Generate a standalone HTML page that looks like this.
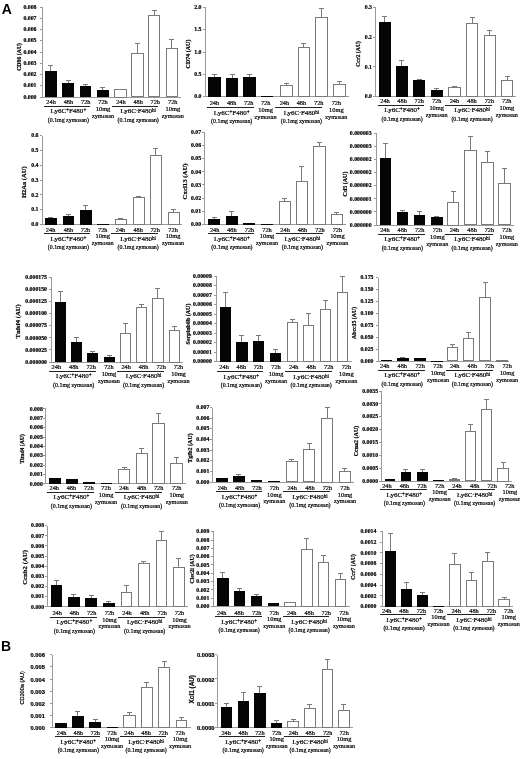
<!DOCTYPE html>
<html><head><meta charset="utf-8"><style>
html,body{margin:0;padding:0;background:#fff;width:520px;height:759px;overflow:hidden;}
body{filter:grayscale(1) blur(0.3px);}
.t{position:absolute;white-space:nowrap;}
.b{position:absolute;}
sup{font-size:0.72em;line-height:0;vertical-align:0.28em;}
.t{-webkit-text-stroke:0.2px #000;}
.L{position:absolute;font:bold 14px/14px 'Liberation Sans', sans-serif;color:#000;}
</style></head><body>
<div class="L" style="left:1.8px;top:1.5px;">A</div>
<div class="L" style="left:1px;top:638.7px;">B</div>
<div class="b" style="left:41.5px;top:7px;width:1px;height:90.5px;background:#9a9a9a;"></div>
<div class="b" style="left:41.5px;top:96.5px;width:139.5px;height:1px;background:#9a9a9a;"></div>
<div class="b" style="left:39.5px;top:96.5px;width:2.5px;height:1px;background:#9a9a9a;"></div>
<div class="t" style="left:-163.5px;top:94.7px;width:200px;text-align:right;font:bold 5.8px/5.8px 'Liberation Serif', serif;color:#000;">0.000</div>
<div class="b" style="left:39.5px;top:85.25px;width:2.5px;height:1px;background:#9a9a9a;"></div>
<div class="t" style="left:-163.5px;top:83.45px;width:200px;text-align:right;font:bold 5.8px/5.8px 'Liberation Serif', serif;color:#000;">0.001</div>
<div class="b" style="left:39.5px;top:74px;width:2.5px;height:1px;background:#9a9a9a;"></div>
<div class="t" style="left:-163.5px;top:72.2px;width:200px;text-align:right;font:bold 5.8px/5.8px 'Liberation Serif', serif;color:#000;">0.002</div>
<div class="b" style="left:39.5px;top:62.75px;width:2.5px;height:1px;background:#9a9a9a;"></div>
<div class="t" style="left:-163.5px;top:60.95px;width:200px;text-align:right;font:bold 5.8px/5.8px 'Liberation Serif', serif;color:#000;">0.003</div>
<div class="b" style="left:39.5px;top:51.5px;width:2.5px;height:1px;background:#9a9a9a;"></div>
<div class="t" style="left:-163.5px;top:49.7px;width:200px;text-align:right;font:bold 5.8px/5.8px 'Liberation Serif', serif;color:#000;">0.004</div>
<div class="b" style="left:39.5px;top:40.25px;width:2.5px;height:1px;background:#9a9a9a;"></div>
<div class="t" style="left:-163.5px;top:38.45px;width:200px;text-align:right;font:bold 5.8px/5.8px 'Liberation Serif', serif;color:#000;">0.005</div>
<div class="b" style="left:39.5px;top:29px;width:2.5px;height:1px;background:#9a9a9a;"></div>
<div class="t" style="left:-163.5px;top:27.2px;width:200px;text-align:right;font:bold 5.8px/5.8px 'Liberation Serif', serif;color:#000;">0.006</div>
<div class="b" style="left:39.5px;top:17.75px;width:2.5px;height:1px;background:#9a9a9a;"></div>
<div class="t" style="left:-163.5px;top:15.95px;width:200px;text-align:right;font:bold 5.8px/5.8px 'Liberation Serif', serif;color:#000;">0.007</div>
<div class="b" style="left:39.5px;top:6.5px;width:2.5px;height:1px;background:#9a9a9a;"></div>
<div class="t" style="left:-163.5px;top:4.7px;width:200px;text-align:right;font:bold 5.8px/5.8px 'Liberation Serif', serif;color:#000;">0.008</div>
<div class="t" style="left:-40.5px;top:54.4px;width:120px;text-align:center;font:bold 5.8px/5.8px 'Liberation Serif', serif;color:#000;transform:rotate(-90deg);">CD86 (AU)</div>
<div class="b" style="left:50.25px;top:65.5px;width:1px;height:5.25px;background:#7a7a7a;"></div>
<div class="b" style="left:48.25px;top:65px;width:5px;height:1px;background:#7a7a7a;"></div>
<div class="b" style="left:45px;top:70.75px;width:11.5px;height:26.25px;background:#050505;"></div>
<div class="b" style="left:67.5px;top:80px;width:1px;height:3px;background:#7a7a7a;"></div>
<div class="b" style="left:65.5px;top:79.5px;width:5px;height:1px;background:#7a7a7a;"></div>
<div class="b" style="left:62px;top:83px;width:12px;height:14px;background:#050505;"></div>
<div class="b" style="left:84.75px;top:84px;width:1px;height:2px;background:#7a7a7a;"></div>
<div class="b" style="left:82.75px;top:83.5px;width:5px;height:1px;background:#7a7a7a;"></div>
<div class="b" style="left:79.5px;top:86px;width:11.5px;height:11px;background:#050505;"></div>
<div class="b" style="left:102px;top:87.5px;width:1px;height:2.5px;background:#7a7a7a;"></div>
<div class="b" style="left:100px;top:87px;width:5px;height:1px;background:#7a7a7a;"></div>
<div class="b" style="left:96.5px;top:90px;width:12px;height:7px;background:#050505;"></div>
<div class="b" style="left:114px;top:88.5px;width:12.5px;height:9px;background:#fff;border:1px solid #7a7a7a;box-sizing:border-box;"></div>
<div class="b" style="left:137px;top:43.8px;width:1px;height:9.5px;background:#7a7a7a;"></div>
<div class="b" style="left:135px;top:43.3px;width:5px;height:1px;background:#7a7a7a;"></div>
<div class="b" style="left:131.3px;top:52.8px;width:12.4px;height:44.7px;background:#fff;border:1px solid #7a7a7a;box-sizing:border-box;"></div>
<div class="b" style="left:153.95px;top:10.4px;width:1px;height:4.9px;background:#7a7a7a;"></div>
<div class="b" style="left:151.95px;top:9.9px;width:5px;height:1px;background:#7a7a7a;"></div>
<div class="b" style="left:148.4px;top:14.8px;width:12.1px;height:82.7px;background:#fff;border:1px solid #7a7a7a;box-sizing:border-box;"></div>
<div class="b" style="left:171.45px;top:39.8px;width:1px;height:8.6px;background:#7a7a7a;"></div>
<div class="b" style="left:169.45px;top:39.3px;width:5px;height:1px;background:#7a7a7a;"></div>
<div class="b" style="left:166.2px;top:47.9px;width:11.5px;height:49.6px;background:#fff;border:1px solid #7a7a7a;box-sizing:border-box;"></div>
<div class="t" style="left:-48.95px;top:99.1px;width:200px;text-align:center;font:normal 6.3px/6.3px 'Liberation Serif', serif;color:#000;">24h</div>
<div class="t" style="left:-31.62px;top:99.1px;width:200px;text-align:center;font:normal 6.3px/6.3px 'Liberation Serif', serif;color:#000;">48h</div>
<div class="t" style="left:-14.29px;top:99.1px;width:200px;text-align:center;font:normal 6.3px/6.3px 'Liberation Serif', serif;color:#000;">72h</div>
<div class="t" style="left:20.87px;top:99.1px;width:200px;text-align:center;font:normal 6.3px/6.3px 'Liberation Serif', serif;color:#000;">24h</div>
<div class="t" style="left:38.19px;top:99.1px;width:200px;text-align:center;font:normal 6.3px/6.3px 'Liberation Serif', serif;color:#000;">48h</div>
<div class="t" style="left:55.22px;top:99.1px;width:200px;text-align:center;font:normal 6.3px/6.3px 'Liberation Serif', serif;color:#000;">72h</div>
<div class="t" style="left:3.03px;top:99.1px;width:200px;text-align:center;font:normal 6.3px/6.3px 'Liberation Serif', serif;color:#000;">72h</div>
<div class="t" style="left:3.03px;top:105.95px;width:200px;text-align:center;font:normal 6.4px/6.4px 'Liberation Serif', serif;color:#000;">10mg</div>
<div class="t" style="left:3.03px;top:112.5px;width:200px;text-align:center;font:normal 6.2px/6.2px 'Liberation Serif', serif;color:#000;">zymosan</div>
<div class="t" style="left:72.8px;top:99.1px;width:200px;text-align:center;font:normal 6.3px/6.3px 'Liberation Serif', serif;color:#000;">72h</div>
<div class="t" style="left:72.8px;top:105.95px;width:200px;text-align:center;font:normal 6.4px/6.4px 'Liberation Serif', serif;color:#000;">10mg</div>
<div class="t" style="left:72.8px;top:112.5px;width:200px;text-align:center;font:normal 6.2px/6.2px 'Liberation Serif', serif;color:#000;">zymosan</div>
<div class="b" style="left:44.27px;top:105.6px;width:46.21px;height:1.1px;background:#222;"></div>
<div class="t" style="left:-31.62px;top:108.2px;width:200px;text-align:center;font:normal 7px/7px 'Liberation Serif', serif;color:#000;letter-spacing:0px;">Ly6C<sup>+</sup>F480<sup>+</sup></div>
<div class="t" style="left:-31.62px;top:117.65px;width:200px;text-align:center;font:normal 5.9px/5.9px 'Liberation Serif', serif;color:#000;">(0.1mg zymosan)</div>
<div class="b" style="left:111.59px;top:105.6px;width:46.71px;height:1.1px;background:#222;"></div>
<div class="t" style="left:38.19px;top:108.2px;width:200px;text-align:center;font:normal 7px/7px 'Liberation Serif', serif;color:#000;letter-spacing:0px;">Ly6C<sup>-</sup>F480<sup>hi</sup></div>
<div class="t" style="left:38.19px;top:117.65px;width:200px;text-align:center;font:normal 5.9px/5.9px 'Liberation Serif', serif;color:#000;">(0.1mg zymosan)</div>
<div class="b" style="left:204.5px;top:7.3px;width:1px;height:89.9px;background:#9a9a9a;"></div>
<div class="b" style="left:204.5px;top:96.2px;width:144.5px;height:1px;background:#9a9a9a;"></div>
<div class="b" style="left:202.5px;top:96.2px;width:2.5px;height:1px;background:#9a9a9a;"></div>
<div class="t" style="left:1.5px;top:94.4px;width:200px;text-align:right;font:bold 5.8px/5.8px 'Liberation Serif', serif;color:#000;">0.0</div>
<div class="b" style="left:202.5px;top:73.85px;width:2.5px;height:1px;background:#9a9a9a;"></div>
<div class="t" style="left:1.5px;top:72.05px;width:200px;text-align:right;font:bold 5.8px/5.8px 'Liberation Serif', serif;color:#000;">0.5</div>
<div class="b" style="left:202.5px;top:51.5px;width:2.5px;height:1px;background:#9a9a9a;"></div>
<div class="t" style="left:1.5px;top:49.7px;width:200px;text-align:right;font:bold 5.8px/5.8px 'Liberation Serif', serif;color:#000;">1.0</div>
<div class="b" style="left:202.5px;top:29.15px;width:2.5px;height:1px;background:#9a9a9a;"></div>
<div class="t" style="left:1.5px;top:27.35px;width:200px;text-align:right;font:bold 5.8px/5.8px 'Liberation Serif', serif;color:#000;">1.5</div>
<div class="b" style="left:202.5px;top:6.8px;width:2.5px;height:1px;background:#9a9a9a;"></div>
<div class="t" style="left:1.5px;top:5px;width:200px;text-align:right;font:bold 5.8px/5.8px 'Liberation Serif', serif;color:#000;">2.0</div>
<div class="t" style="left:128px;top:51px;width:120px;text-align:center;font:bold 6px/6px 'Liberation Serif', serif;color:#000;transform:rotate(-90deg);">CD74 (AU)</div>
<div class="b" style="left:213.75px;top:74.5px;width:1px;height:2.25px;background:#7a7a7a;"></div>
<div class="b" style="left:211.75px;top:74px;width:5px;height:1px;background:#7a7a7a;"></div>
<div class="b" style="left:208px;top:76.75px;width:12.5px;height:19.95px;background:#050505;"></div>
<div class="b" style="left:231.5px;top:74.25px;width:1px;height:3.25px;background:#7a7a7a;"></div>
<div class="b" style="left:229.5px;top:73.75px;width:5px;height:1px;background:#7a7a7a;"></div>
<div class="b" style="left:225.75px;top:77.5px;width:12.5px;height:19.2px;background:#050505;"></div>
<div class="b" style="left:249px;top:74.5px;width:1px;height:2px;background:#7a7a7a;"></div>
<div class="b" style="left:247px;top:74px;width:5px;height:1px;background:#7a7a7a;"></div>
<div class="b" style="left:243.25px;top:76.5px;width:12.5px;height:20.2px;background:#050505;"></div>
<div class="b" style="left:260.75px;top:95.75px;width:12.25px;height:0.95px;background:#050505;"></div>
<div class="b" style="left:285.75px;top:83.5px;width:1px;height:2.25px;background:#7a7a7a;"></div>
<div class="b" style="left:283.75px;top:83px;width:5px;height:1px;background:#7a7a7a;"></div>
<div class="b" style="left:280px;top:85.25px;width:12.5px;height:11.95px;background:#fff;border:1px solid #7a7a7a;box-sizing:border-box;"></div>
<div class="b" style="left:303.25px;top:43px;width:1px;height:4.25px;background:#7a7a7a;"></div>
<div class="b" style="left:301.25px;top:42.5px;width:5px;height:1px;background:#7a7a7a;"></div>
<div class="b" style="left:297.5px;top:46.75px;width:12.5px;height:50.45px;background:#fff;border:1px solid #7a7a7a;box-sizing:border-box;"></div>
<div class="b" style="left:321.1px;top:8.6px;width:1px;height:8.8px;background:#7a7a7a;"></div>
<div class="b" style="left:319.1px;top:8.1px;width:5px;height:1px;background:#7a7a7a;"></div>
<div class="b" style="left:315.3px;top:16.9px;width:12.6px;height:80.3px;background:#fff;border:1px solid #7a7a7a;box-sizing:border-box;"></div>
<div class="b" style="left:339.15px;top:81.8px;width:1px;height:2.6px;background:#7a7a7a;"></div>
<div class="b" style="left:337.15px;top:81.3px;width:5px;height:1px;background:#7a7a7a;"></div>
<div class="b" style="left:333.4px;top:83.9px;width:12.5px;height:13.3px;background:#fff;border:1px solid #7a7a7a;box-sizing:border-box;"></div>
<div class="t" style="left:114.45px;top:100.4px;width:200px;text-align:center;font:normal 6.3px/6.3px 'Liberation Serif', serif;color:#000;">24h</div>
<div class="t" style="left:131.7px;top:100.4px;width:200px;text-align:center;font:normal 6.3px/6.3px 'Liberation Serif', serif;color:#000;">48h</div>
<div class="t" style="left:148.72px;top:100.4px;width:200px;text-align:center;font:normal 6.3px/6.3px 'Liberation Serif', serif;color:#000;">72h</div>
<div class="t" style="left:184.45px;top:100.4px;width:200px;text-align:center;font:normal 6.3px/6.3px 'Liberation Serif', serif;color:#000;">24h</div>
<div class="t" style="left:201.46px;top:100.4px;width:200px;text-align:center;font:normal 6.3px/6.3px 'Liberation Serif', serif;color:#000;">48h</div>
<div class="t" style="left:218.81px;top:100.4px;width:200px;text-align:center;font:normal 6.3px/6.3px 'Liberation Serif', serif;color:#000;">72h</div>
<div class="t" style="left:165.61px;top:100.4px;width:200px;text-align:center;font:normal 6.3px/6.3px 'Liberation Serif', serif;color:#000;">72h</div>
<div class="t" style="left:165.61px;top:107.25px;width:200px;text-align:center;font:normal 6.4px/6.4px 'Liberation Serif', serif;color:#000;">10mg</div>
<div class="t" style="left:165.61px;top:113.8px;width:200px;text-align:center;font:normal 6.2px/6.2px 'Liberation Serif', serif;color:#000;">zymosan</div>
<div class="t" style="left:236.36px;top:100.4px;width:200px;text-align:center;font:normal 6.3px/6.3px 'Liberation Serif', serif;color:#000;">72h</div>
<div class="t" style="left:236.36px;top:107.25px;width:200px;text-align:center;font:normal 6.4px/6.4px 'Liberation Serif', serif;color:#000;">10mg</div>
<div class="t" style="left:236.36px;top:113.8px;width:200px;text-align:center;font:normal 6.2px/6.2px 'Liberation Serif', serif;color:#000;">zymosan</div>
<div class="b" style="left:207.37px;top:106.9px;width:46.42px;height:1.1px;background:#222;"></div>
<div class="t" style="left:131.7px;top:109.5px;width:200px;text-align:center;font:normal 7px/7px 'Liberation Serif', serif;color:#000;letter-spacing:0px;">Ly6C<sup>+</sup>F480<sup>+</sup></div>
<div class="t" style="left:131.7px;top:118.95px;width:200px;text-align:center;font:normal 5.9px/5.9px 'Liberation Serif', serif;color:#000;">(0.1mg zymosan)</div>
<div class="b" style="left:275.37px;top:106.9px;width:46.57px;height:1.1px;background:#222;"></div>
<div class="t" style="left:201.46px;top:109.5px;width:200px;text-align:center;font:normal 7px/7px 'Liberation Serif', serif;color:#000;letter-spacing:0px;">Ly6C<sup>-</sup>F480<sup>hi</sup></div>
<div class="t" style="left:201.46px;top:118.95px;width:200px;text-align:center;font:normal 5.9px/5.9px 'Liberation Serif', serif;color:#000;">(0.1mg zymosan)</div>
<div class="b" style="left:375px;top:7.5px;width:1px;height:89.5px;background:#9a9a9a;"></div>
<div class="b" style="left:375px;top:96px;width:141px;height:1px;background:#9a9a9a;"></div>
<div class="b" style="left:373px;top:96px;width:2.5px;height:1px;background:#9a9a9a;"></div>
<div class="t" style="left:172px;top:94.2px;width:200px;text-align:right;font:bold 5.8px/5.8px 'Liberation Serif', serif;color:#000;">0.0</div>
<div class="b" style="left:373px;top:66.33px;width:2.5px;height:1px;background:#9a9a9a;"></div>
<div class="t" style="left:172px;top:64.53px;width:200px;text-align:right;font:bold 5.8px/5.8px 'Liberation Serif', serif;color:#000;">0.1</div>
<div class="b" style="left:373px;top:36.67px;width:2.5px;height:1px;background:#9a9a9a;"></div>
<div class="t" style="left:172px;top:34.87px;width:200px;text-align:right;font:bold 5.8px/5.8px 'Liberation Serif', serif;color:#000;">0.2</div>
<div class="b" style="left:373px;top:7px;width:2.5px;height:1px;background:#9a9a9a;"></div>
<div class="t" style="left:172px;top:5.2px;width:200px;text-align:right;font:bold 5.8px/5.8px 'Liberation Serif', serif;color:#000;">0.3</div>
<div class="t" style="left:298.9px;top:51.4px;width:120px;text-align:center;font:bold 5.8px/5.8px 'Liberation Serif', serif;color:#000;transform:rotate(-90deg);">Ccr2 (AU)</div>
<div class="b" style="left:384.25px;top:16.5px;width:1px;height:5.5px;background:#7a7a7a;"></div>
<div class="b" style="left:382.25px;top:16px;width:5px;height:1px;background:#7a7a7a;"></div>
<div class="b" style="left:378.75px;top:22px;width:12px;height:74.5px;background:#050505;"></div>
<div class="b" style="left:401.38px;top:60.75px;width:1px;height:5.25px;background:#7a7a7a;"></div>
<div class="b" style="left:399.38px;top:60.25px;width:5px;height:1px;background:#7a7a7a;"></div>
<div class="b" style="left:395.75px;top:66px;width:12.25px;height:30.5px;background:#050505;"></div>
<div class="b" style="left:418.62px;top:79px;width:1px;height:1px;background:#7a7a7a;"></div>
<div class="b" style="left:416.62px;top:78.5px;width:5px;height:1px;background:#7a7a7a;"></div>
<div class="b" style="left:413px;top:80px;width:12.25px;height:16.5px;background:#050505;"></div>
<div class="b" style="left:436.12px;top:88.5px;width:1px;height:1.5px;background:#7a7a7a;"></div>
<div class="b" style="left:434.12px;top:88px;width:5px;height:1px;background:#7a7a7a;"></div>
<div class="b" style="left:430.5px;top:90px;width:12.25px;height:6.5px;background:#050505;"></div>
<div class="b" style="left:453.88px;top:86.5px;width:1px;height:0.75px;background:#7a7a7a;"></div>
<div class="b" style="left:451.88px;top:86px;width:5px;height:1px;background:#7a7a7a;"></div>
<div class="b" style="left:448.25px;top:86.75px;width:12.25px;height:10.25px;background:#fff;border:1px solid #7a7a7a;box-sizing:border-box;"></div>
<div class="b" style="left:471.6px;top:17.4px;width:1px;height:6.2px;background:#7a7a7a;"></div>
<div class="b" style="left:469.6px;top:16.9px;width:5px;height:1px;background:#7a7a7a;"></div>
<div class="b" style="left:465.9px;top:23.1px;width:12.4px;height:73.9px;background:#fff;border:1px solid #7a7a7a;box-sizing:border-box;"></div>
<div class="b" style="left:489px;top:30px;width:1px;height:5px;background:#7a7a7a;"></div>
<div class="b" style="left:487px;top:29.5px;width:5px;height:1px;background:#7a7a7a;"></div>
<div class="b" style="left:483.5px;top:34.5px;width:12px;height:62.5px;background:#fff;border:1px solid #7a7a7a;box-sizing:border-box;"></div>
<div class="b" style="left:506.5px;top:76.2px;width:1px;height:3.8px;background:#7a7a7a;"></div>
<div class="b" style="left:504.5px;top:75.7px;width:5px;height:1px;background:#7a7a7a;"></div>
<div class="b" style="left:501px;top:79.5px;width:12px;height:17.5px;background:#fff;border:1px solid #7a7a7a;box-sizing:border-box;"></div>
<div class="t" style="left:285.05px;top:98.35px;width:200px;text-align:center;font:normal 6.3px/6.3px 'Liberation Serif', serif;color:#000;">24h</div>
<div class="t" style="left:302.1px;top:98.35px;width:200px;text-align:center;font:normal 6.3px/6.3px 'Liberation Serif', serif;color:#000;">48h</div>
<div class="t" style="left:319.28px;top:98.35px;width:200px;text-align:center;font:normal 6.3px/6.3px 'Liberation Serif', serif;color:#000;">72h</div>
<div class="t" style="left:354.39px;top:98.35px;width:200px;text-align:center;font:normal 6.3px/6.3px 'Liberation Serif', serif;color:#000;">24h</div>
<div class="t" style="left:372.04px;top:98.35px;width:200px;text-align:center;font:normal 6.3px/6.3px 'Liberation Serif', serif;color:#000;">48h</div>
<div class="t" style="left:389.37px;top:98.35px;width:200px;text-align:center;font:normal 6.3px/6.3px 'Liberation Serif', serif;color:#000;">72h</div>
<div class="t" style="left:336.71px;top:98.35px;width:200px;text-align:center;font:normal 6.3px/6.3px 'Liberation Serif', serif;color:#000;">72h</div>
<div class="t" style="left:336.71px;top:105.2px;width:200px;text-align:center;font:normal 6.4px/6.4px 'Liberation Serif', serif;color:#000;">10mg</div>
<div class="t" style="left:336.71px;top:111.75px;width:200px;text-align:center;font:normal 6.2px/6.2px 'Liberation Serif', serif;color:#000;">zymosan</div>
<div class="t" style="left:406.8px;top:98.35px;width:200px;text-align:center;font:normal 6.3px/6.3px 'Liberation Serif', serif;color:#000;">72h</div>
<div class="t" style="left:406.8px;top:105.2px;width:200px;text-align:center;font:normal 6.4px/6.4px 'Liberation Serif', serif;color:#000;">10mg</div>
<div class="t" style="left:406.8px;top:111.75px;width:200px;text-align:center;font:normal 6.2px/6.2px 'Liberation Serif', serif;color:#000;">zymosan</div>
<div class="b" style="left:378.07px;top:104.85px;width:46.31px;height:1.1px;background:#222;"></div>
<div class="t" style="left:302.1px;top:107.45px;width:200px;text-align:center;font:normal 7px/7px 'Liberation Serif', serif;color:#000;letter-spacing:0px;">Ly6C<sup>+</sup>F480<sup>+</sup></div>
<div class="t" style="left:302.1px;top:116.9px;width:200px;text-align:center;font:normal 5.9px/5.9px 'Liberation Serif', serif;color:#000;">(0.1mg zymosan)</div>
<div class="b" style="left:445.29px;top:104.85px;width:47.06px;height:1.1px;background:#222;"></div>
<div class="t" style="left:372.04px;top:107.45px;width:200px;text-align:center;font:normal 7px/7px 'Liberation Serif', serif;color:#000;letter-spacing:0px;">Ly6C<sup>-</sup>F480<sup>hi</sup></div>
<div class="t" style="left:372.04px;top:116.9px;width:200px;text-align:center;font:normal 5.9px/5.9px 'Liberation Serif', serif;color:#000;">(0.1mg zymosan)</div>
<div class="b" style="left:41.5px;top:135.5px;width:1px;height:89.5px;background:#9a9a9a;"></div>
<div class="b" style="left:41.5px;top:224px;width:140.5px;height:1px;background:#9a9a9a;"></div>
<div class="b" style="left:39.5px;top:224px;width:2.5px;height:1px;background:#9a9a9a;"></div>
<div class="t" style="left:-161.5px;top:222.2px;width:200px;text-align:right;font:bold 5.8px/5.8px 'Liberation Serif', serif;color:#000;">0.0</div>
<div class="b" style="left:39.5px;top:209.17px;width:2.5px;height:1px;background:#9a9a9a;"></div>
<div class="t" style="left:-161.5px;top:207.37px;width:200px;text-align:right;font:bold 5.8px/5.8px 'Liberation Serif', serif;color:#000;">0.1</div>
<div class="b" style="left:39.5px;top:194.33px;width:2.5px;height:1px;background:#9a9a9a;"></div>
<div class="t" style="left:-161.5px;top:192.53px;width:200px;text-align:right;font:bold 5.8px/5.8px 'Liberation Serif', serif;color:#000;">0.2</div>
<div class="b" style="left:39.5px;top:179.5px;width:2.5px;height:1px;background:#9a9a9a;"></div>
<div class="t" style="left:-161.5px;top:177.7px;width:200px;text-align:right;font:bold 5.8px/5.8px 'Liberation Serif', serif;color:#000;">0.3</div>
<div class="b" style="left:39.5px;top:164.67px;width:2.5px;height:1px;background:#9a9a9a;"></div>
<div class="t" style="left:-161.5px;top:162.87px;width:200px;text-align:right;font:bold 5.8px/5.8px 'Liberation Serif', serif;color:#000;">0.4</div>
<div class="b" style="left:39.5px;top:149.83px;width:2.5px;height:1px;background:#9a9a9a;"></div>
<div class="t" style="left:-161.5px;top:148.03px;width:200px;text-align:right;font:bold 5.8px/5.8px 'Liberation Serif', serif;color:#000;">0.5</div>
<div class="b" style="left:39.5px;top:135px;width:2.5px;height:1px;background:#9a9a9a;"></div>
<div class="t" style="left:-161.5px;top:133.2px;width:200px;text-align:right;font:bold 5.8px/5.8px 'Liberation Serif', serif;color:#000;">0.6</div>
<div class="t" style="left:-36px;top:179.25px;width:120px;text-align:center;font:bold 6.5px/6.5px 'Liberation Serif', serif;color:#000;transform:rotate(-90deg);">H2Aa (AU)</div>
<div class="b" style="left:50.25px;top:217px;width:1px;height:0.75px;background:#7a7a7a;"></div>
<div class="b" style="left:48.25px;top:216.5px;width:5px;height:1px;background:#7a7a7a;"></div>
<div class="b" style="left:45px;top:217.75px;width:11.5px;height:6.75px;background:#050505;"></div>
<div class="b" style="left:68.12px;top:214.5px;width:1px;height:1.25px;background:#7a7a7a;"></div>
<div class="b" style="left:66.12px;top:214px;width:5px;height:1px;background:#7a7a7a;"></div>
<div class="b" style="left:63px;top:215.75px;width:11.25px;height:8.75px;background:#050505;"></div>
<div class="b" style="left:85.25px;top:205.5px;width:1px;height:4px;background:#7a7a7a;"></div>
<div class="b" style="left:83.25px;top:205px;width:5px;height:1px;background:#7a7a7a;"></div>
<div class="b" style="left:80px;top:209.5px;width:11.5px;height:15px;background:#050505;"></div>
<div class="b" style="left:97px;top:223.5px;width:12px;height:1px;background:#050505;"></div>
<div class="b" style="left:120.38px;top:218.5px;width:1px;height:0.75px;background:#7a7a7a;"></div>
<div class="b" style="left:118.38px;top:218px;width:5px;height:1px;background:#7a7a7a;"></div>
<div class="b" style="left:114.75px;top:218.75px;width:12.25px;height:6.25px;background:#fff;border:1px solid #7a7a7a;box-sizing:border-box;"></div>
<div class="b" style="left:138px;top:196.5px;width:1px;height:0.75px;background:#7a7a7a;"></div>
<div class="b" style="left:136px;top:196px;width:5px;height:1px;background:#7a7a7a;"></div>
<div class="b" style="left:132.5px;top:196.75px;width:12px;height:28.25px;background:#fff;border:1px solid #7a7a7a;box-sizing:border-box;"></div>
<div class="b" style="left:155px;top:148px;width:1px;height:7px;background:#7a7a7a;"></div>
<div class="b" style="left:153px;top:147.5px;width:5px;height:1px;background:#7a7a7a;"></div>
<div class="b" style="left:149.5px;top:154.5px;width:12px;height:70.5px;background:#fff;border:1px solid #7a7a7a;box-sizing:border-box;"></div>
<div class="b" style="left:173px;top:209.5px;width:1px;height:2.5px;background:#7a7a7a;"></div>
<div class="b" style="left:171px;top:209px;width:5px;height:1px;background:#7a7a7a;"></div>
<div class="b" style="left:167.5px;top:211.5px;width:12px;height:13.5px;background:#fff;border:1px solid #7a7a7a;box-sizing:border-box;"></div>
<div class="t" style="left:-49.45px;top:226.5px;width:200px;text-align:center;font:normal 6.3px/6.3px 'Liberation Serif', serif;color:#000;">24h</div>
<div class="t" style="left:-31.6px;top:226.5px;width:200px;text-align:center;font:normal 6.3px/6.3px 'Liberation Serif', serif;color:#000;">48h</div>
<div class="t" style="left:-14.51px;top:226.5px;width:200px;text-align:center;font:normal 6.3px/6.3px 'Liberation Serif', serif;color:#000;">72h</div>
<div class="t" style="left:20.56px;top:226.5px;width:200px;text-align:center;font:normal 6.3px/6.3px 'Liberation Serif', serif;color:#000;">24h</div>
<div class="t" style="left:38.16px;top:226.5px;width:200px;text-align:center;font:normal 6.3px/6.3px 'Liberation Serif', serif;color:#000;">48h</div>
<div class="t" style="left:55.13px;top:226.5px;width:200px;text-align:center;font:normal 6.3px/6.3px 'Liberation Serif', serif;color:#000;">72h</div>
<div class="t" style="left:2.72px;top:226.5px;width:200px;text-align:center;font:normal 6.3px/6.3px 'Liberation Serif', serif;color:#000;">72h</div>
<div class="t" style="left:2.72px;top:233.35px;width:200px;text-align:center;font:normal 6.4px/6.4px 'Liberation Serif', serif;color:#000;">10mg</div>
<div class="t" style="left:2.72px;top:239.9px;width:200px;text-align:center;font:normal 6.2px/6.2px 'Liberation Serif', serif;color:#000;">zymosan</div>
<div class="t" style="left:73.1px;top:226.5px;width:200px;text-align:center;font:normal 6.3px/6.3px 'Liberation Serif', serif;color:#000;">72h</div>
<div class="t" style="left:73.1px;top:233.35px;width:200px;text-align:center;font:normal 6.4px/6.4px 'Liberation Serif', serif;color:#000;">10mg</div>
<div class="t" style="left:73.1px;top:239.9px;width:200px;text-align:center;font:normal 6.2px/6.2px 'Liberation Serif', serif;color:#000;">zymosan</div>
<div class="b" style="left:43.81px;top:233px;width:46.42px;height:1.1px;background:#222;"></div>
<div class="t" style="left:-31.6px;top:235.6px;width:200px;text-align:center;font:normal 7px/7px 'Liberation Serif', serif;color:#000;letter-spacing:0px;">Ly6C<sup>+</sup>F480<sup>+</sup></div>
<div class="t" style="left:-31.6px;top:245.05px;width:200px;text-align:center;font:normal 5.9px/5.9px 'Liberation Serif', serif;color:#000;">(0.1mg zymosan)</div>
<div class="b" style="left:111.45px;top:233px;width:46.67px;height:1.1px;background:#222;"></div>
<div class="t" style="left:38.16px;top:235.6px;width:200px;text-align:center;font:normal 7px/7px 'Liberation Serif', serif;color:#000;letter-spacing:0px;">Ly6C<sup>-</sup>F480<sup>hi</sup></div>
<div class="t" style="left:38.16px;top:245.05px;width:200px;text-align:center;font:normal 5.9px/5.9px 'Liberation Serif', serif;color:#000;">(0.1mg zymosan)</div>
<div class="b" style="left:204px;top:132.3px;width:1px;height:92.7px;background:#9a9a9a;"></div>
<div class="b" style="left:204px;top:224px;width:142px;height:1px;background:#9a9a9a;"></div>
<div class="b" style="left:202px;top:224px;width:2.5px;height:1px;background:#9a9a9a;"></div>
<div class="t" style="left:1.1px;top:222.2px;width:200px;text-align:right;font:bold 5.8px/5.8px 'Liberation Serif', serif;color:#000;">0.00</div>
<div class="b" style="left:202px;top:210.83px;width:2.5px;height:1px;background:#9a9a9a;"></div>
<div class="t" style="left:1.1px;top:209.03px;width:200px;text-align:right;font:bold 5.8px/5.8px 'Liberation Serif', serif;color:#000;">0.01</div>
<div class="b" style="left:202px;top:197.66px;width:2.5px;height:1px;background:#9a9a9a;"></div>
<div class="t" style="left:1.1px;top:195.86px;width:200px;text-align:right;font:bold 5.8px/5.8px 'Liberation Serif', serif;color:#000;">0.02</div>
<div class="b" style="left:202px;top:184.49px;width:2.5px;height:1px;background:#9a9a9a;"></div>
<div class="t" style="left:1.1px;top:182.69px;width:200px;text-align:right;font:bold 5.8px/5.8px 'Liberation Serif', serif;color:#000;">0.03</div>
<div class="b" style="left:202px;top:171.31px;width:2.5px;height:1px;background:#9a9a9a;"></div>
<div class="t" style="left:1.1px;top:169.51px;width:200px;text-align:right;font:bold 5.8px/5.8px 'Liberation Serif', serif;color:#000;">0.04</div>
<div class="b" style="left:202px;top:158.14px;width:2.5px;height:1px;background:#9a9a9a;"></div>
<div class="t" style="left:1.1px;top:156.34px;width:200px;text-align:right;font:bold 5.8px/5.8px 'Liberation Serif', serif;color:#000;">0.05</div>
<div class="b" style="left:202px;top:144.97px;width:2.5px;height:1px;background:#9a9a9a;"></div>
<div class="t" style="left:1.1px;top:143.17px;width:200px;text-align:right;font:bold 5.8px/5.8px 'Liberation Serif', serif;color:#000;">0.06</div>
<div class="b" style="left:202px;top:131.8px;width:2.5px;height:1px;background:#9a9a9a;"></div>
<div class="t" style="left:1.1px;top:130px;width:200px;text-align:right;font:bold 5.8px/5.8px 'Liberation Serif', serif;color:#000;">0.07</div>
<div class="t" style="left:124.7px;top:178.3px;width:120px;text-align:center;font:bold 6.8px/6.8px 'Liberation Serif', serif;color:#000;transform:rotate(-90deg);">Cxcl13 (AU)</div>
<div class="b" style="left:213.75px;top:217.25px;width:1px;height:1.5px;background:#7a7a7a;"></div>
<div class="b" style="left:211.75px;top:216.75px;width:5px;height:1px;background:#7a7a7a;"></div>
<div class="b" style="left:208.25px;top:218.75px;width:12px;height:5.75px;background:#050505;"></div>
<div class="b" style="left:231px;top:211.75px;width:1px;height:3.75px;background:#7a7a7a;"></div>
<div class="b" style="left:229px;top:211.25px;width:5px;height:1px;background:#7a7a7a;"></div>
<div class="b" style="left:225.5px;top:215.5px;width:12px;height:9px;background:#050505;"></div>
<div class="b" style="left:243px;top:222.75px;width:12px;height:1.75px;background:#050505;"></div>
<div class="b" style="left:260.5px;top:224px;width:12px;height:0.5px;background:#050505;"></div>
<div class="b" style="left:284px;top:198px;width:1px;height:3.25px;background:#7a7a7a;"></div>
<div class="b" style="left:282px;top:197.5px;width:5px;height:1px;background:#7a7a7a;"></div>
<div class="b" style="left:278.5px;top:200.75px;width:12px;height:24.25px;background:#fff;border:1px solid #7a7a7a;box-sizing:border-box;"></div>
<div class="b" style="left:301.25px;top:166px;width:1px;height:15.25px;background:#7a7a7a;"></div>
<div class="b" style="left:299.25px;top:165.5px;width:5px;height:1px;background:#7a7a7a;"></div>
<div class="b" style="left:295.75px;top:180.75px;width:12px;height:44.25px;background:#fff;border:1px solid #7a7a7a;box-sizing:border-box;"></div>
<div class="b" style="left:318.88px;top:142px;width:1px;height:4.75px;background:#7a7a7a;"></div>
<div class="b" style="left:316.88px;top:141.5px;width:5px;height:1px;background:#7a7a7a;"></div>
<div class="b" style="left:313.25px;top:146.25px;width:12.25px;height:78.75px;background:#fff;border:1px solid #7a7a7a;box-sizing:border-box;"></div>
<div class="b" style="left:336.25px;top:212px;width:1px;height:2.75px;background:#7a7a7a;"></div>
<div class="b" style="left:334.25px;top:211.5px;width:5px;height:1px;background:#7a7a7a;"></div>
<div class="b" style="left:330.75px;top:214.25px;width:12px;height:10.75px;background:#fff;border:1px solid #7a7a7a;box-sizing:border-box;"></div>
<div class="t" style="left:114.65px;top:226.6px;width:200px;text-align:center;font:normal 6.3px/6.3px 'Liberation Serif', serif;color:#000;">24h</div>
<div class="t" style="left:131.94px;top:226.6px;width:200px;text-align:center;font:normal 6.3px/6.3px 'Liberation Serif', serif;color:#000;">48h</div>
<div class="t" style="left:149.49px;top:226.6px;width:200px;text-align:center;font:normal 6.3px/6.3px 'Liberation Serif', serif;color:#000;">72h</div>
<div class="t" style="left:185.07px;top:226.6px;width:200px;text-align:center;font:normal 6.3px/6.3px 'Liberation Serif', serif;color:#000;">24h</div>
<div class="t" style="left:202.36px;top:226.6px;width:200px;text-align:center;font:normal 6.3px/6.3px 'Liberation Serif', serif;color:#000;">48h</div>
<div class="t" style="left:220.03px;top:226.6px;width:200px;text-align:center;font:normal 6.3px/6.3px 'Liberation Serif', serif;color:#000;">72h</div>
<div class="t" style="left:167.03px;top:226.6px;width:200px;text-align:center;font:normal 6.3px/6.3px 'Liberation Serif', serif;color:#000;">72h</div>
<div class="t" style="left:167.03px;top:233.45px;width:200px;text-align:center;font:normal 6.4px/6.4px 'Liberation Serif', serif;color:#000;">10mg</div>
<div class="t" style="left:167.03px;top:240px;width:200px;text-align:center;font:normal 6.2px/6.2px 'Liberation Serif', serif;color:#000;">zymosan</div>
<div class="t" style="left:237.45px;top:226.6px;width:200px;text-align:center;font:normal 6.3px/6.3px 'Liberation Serif', serif;color:#000;">72h</div>
<div class="t" style="left:237.45px;top:233.45px;width:200px;text-align:center;font:normal 6.4px/6.4px 'Liberation Serif', serif;color:#000;">10mg</div>
<div class="t" style="left:237.45px;top:240px;width:200px;text-align:center;font:normal 6.2px/6.2px 'Liberation Serif', serif;color:#000;">zymosan</div>
<div class="b" style="left:207.64px;top:233.1px;width:46.86px;height:1.1px;background:#222;"></div>
<div class="t" style="left:131.94px;top:235.7px;width:200px;text-align:center;font:normal 7px/7px 'Liberation Serif', serif;color:#000;letter-spacing:0px;">Ly6C<sup>+</sup>F480<sup>+</sup></div>
<div class="t" style="left:131.94px;top:245.15px;width:200px;text-align:center;font:normal 5.9px/5.9px 'Liberation Serif', serif;color:#000;">(0.1mg zymosan)</div>
<div class="b" style="left:276.06px;top:233.1px;width:47.12px;height:1.1px;background:#222;"></div>
<div class="t" style="left:202.36px;top:235.7px;width:200px;text-align:center;font:normal 7px/7px 'Liberation Serif', serif;color:#000;letter-spacing:0px;">Ly6C<sup>-</sup>F480<sup>hi</sup></div>
<div class="t" style="left:202.36px;top:245.15px;width:200px;text-align:center;font:normal 5.9px/5.9px 'Liberation Serif', serif;color:#000;">(0.1mg zymosan)</div>
<div class="b" style="left:375.8px;top:133.3px;width:1px;height:92.2px;background:#9a9a9a;"></div>
<div class="b" style="left:375.8px;top:224.5px;width:138.2px;height:1px;background:#9a9a9a;"></div>
<div class="b" style="left:373.8px;top:224.5px;width:2.5px;height:1px;background:#9a9a9a;"></div>
<div class="t" style="left:171.6px;top:222.7px;width:200px;text-align:right;font:bold 5.8px/5.8px 'Liberation Serif', serif;color:#000;">0.000000</div>
<div class="b" style="left:373.8px;top:211.4px;width:2.5px;height:1px;background:#9a9a9a;"></div>
<div class="t" style="left:171.6px;top:209.6px;width:200px;text-align:right;font:bold 5.8px/5.8px 'Liberation Serif', serif;color:#000;">0.000000</div>
<div class="b" style="left:373.8px;top:198.3px;width:2.5px;height:1px;background:#9a9a9a;"></div>
<div class="t" style="left:171.6px;top:196.5px;width:200px;text-align:right;font:bold 5.8px/5.8px 'Liberation Serif', serif;color:#000;">0.000001</div>
<div class="b" style="left:373.8px;top:185.2px;width:2.5px;height:1px;background:#9a9a9a;"></div>
<div class="t" style="left:171.6px;top:183.4px;width:200px;text-align:right;font:bold 5.8px/5.8px 'Liberation Serif', serif;color:#000;">0.000002</div>
<div class="b" style="left:373.8px;top:172.1px;width:2.5px;height:1px;background:#9a9a9a;"></div>
<div class="t" style="left:171.6px;top:170.3px;width:200px;text-align:right;font:bold 5.8px/5.8px 'Liberation Serif', serif;color:#000;">0.000002</div>
<div class="b" style="left:373.8px;top:159px;width:2.5px;height:1px;background:#9a9a9a;"></div>
<div class="t" style="left:171.6px;top:157.2px;width:200px;text-align:right;font:bold 5.8px/5.8px 'Liberation Serif', serif;color:#000;">0.000002</div>
<div class="b" style="left:373.8px;top:145.9px;width:2.5px;height:1px;background:#9a9a9a;"></div>
<div class="t" style="left:171.6px;top:144.1px;width:200px;text-align:right;font:bold 5.8px/5.8px 'Liberation Serif', serif;color:#000;">0.000003</div>
<div class="b" style="left:373.8px;top:132.8px;width:2.5px;height:1px;background:#9a9a9a;"></div>
<div class="t" style="left:171.6px;top:131px;width:200px;text-align:right;font:bold 5.8px/5.8px 'Liberation Serif', serif;color:#000;">0.000003</div>
<div class="t" style="left:284.5px;top:180.6px;width:120px;text-align:center;font:bold 6px/6px 'Liberation Serif', serif;color:#000;transform:rotate(-90deg);">Cd5 (AU)</div>
<div class="b" style="left:385.12px;top:143px;width:1px;height:15.25px;background:#7a7a7a;"></div>
<div class="b" style="left:383.12px;top:142.5px;width:5px;height:1px;background:#7a7a7a;"></div>
<div class="b" style="left:380px;top:158.25px;width:11.25px;height:66.75px;background:#050505;"></div>
<div class="b" style="left:402px;top:210px;width:1px;height:1.75px;background:#7a7a7a;"></div>
<div class="b" style="left:400px;top:209.5px;width:5px;height:1px;background:#7a7a7a;"></div>
<div class="b" style="left:396.75px;top:211.75px;width:11.5px;height:13.25px;background:#050505;"></div>
<div class="b" style="left:419px;top:211.25px;width:1px;height:4px;background:#7a7a7a;"></div>
<div class="b" style="left:417px;top:210.75px;width:5px;height:1px;background:#7a7a7a;"></div>
<div class="b" style="left:413.75px;top:215.25px;width:11.5px;height:9.75px;background:#050505;"></div>
<div class="b" style="left:436.25px;top:216.5px;width:1px;height:0.75px;background:#7a7a7a;"></div>
<div class="b" style="left:434.25px;top:216px;width:5px;height:1px;background:#7a7a7a;"></div>
<div class="b" style="left:431px;top:217.25px;width:11.5px;height:7.75px;background:#050505;"></div>
<div class="b" style="left:452.85px;top:191.3px;width:1px;height:11.2px;background:#7a7a7a;"></div>
<div class="b" style="left:450.85px;top:190.8px;width:5px;height:1px;background:#7a7a7a;"></div>
<div class="b" style="left:447.4px;top:202px;width:11.9px;height:23.5px;background:#fff;border:1px solid #7a7a7a;box-sizing:border-box;"></div>
<div class="b" style="left:470.05px;top:136.3px;width:1px;height:14.1px;background:#7a7a7a;"></div>
<div class="b" style="left:468.05px;top:135.8px;width:5px;height:1px;background:#7a7a7a;"></div>
<div class="b" style="left:464.4px;top:149.9px;width:12.3px;height:75.6px;background:#fff;border:1px solid #7a7a7a;box-sizing:border-box;"></div>
<div class="b" style="left:487px;top:151.3px;width:1px;height:10.8px;background:#7a7a7a;"></div>
<div class="b" style="left:485px;top:150.8px;width:5px;height:1px;background:#7a7a7a;"></div>
<div class="b" style="left:481.3px;top:161.6px;width:12.4px;height:63.9px;background:#fff;border:1px solid #7a7a7a;box-sizing:border-box;"></div>
<div class="b" style="left:503.95px;top:168.3px;width:1px;height:15px;background:#7a7a7a;"></div>
<div class="b" style="left:501.95px;top:167.8px;width:5px;height:1px;background:#7a7a7a;"></div>
<div class="b" style="left:498.3px;top:182.8px;width:12.3px;height:42.7px;background:#fff;border:1px solid #7a7a7a;box-sizing:border-box;"></div>
<div class="t" style="left:284.94px;top:227.3px;width:200px;text-align:center;font:normal 6.3px/6.3px 'Liberation Serif', serif;color:#000;">24h</div>
<div class="t" style="left:302.25px;top:227.3px;width:200px;text-align:center;font:normal 6.3px/6.3px 'Liberation Serif', serif;color:#000;">48h</div>
<div class="t" style="left:319.69px;top:227.3px;width:200px;text-align:center;font:normal 6.3px/6.3px 'Liberation Serif', serif;color:#000;">72h</div>
<div class="t" style="left:354.42px;top:227.3px;width:200px;text-align:center;font:normal 6.3px/6.3px 'Liberation Serif', serif;color:#000;">24h</div>
<div class="t" style="left:372.07px;top:227.3px;width:200px;text-align:center;font:normal 6.3px/6.3px 'Liberation Serif', serif;color:#000;">48h</div>
<div class="t" style="left:389.46px;top:227.3px;width:200px;text-align:center;font:normal 6.3px/6.3px 'Liberation Serif', serif;color:#000;">72h</div>
<div class="t" style="left:337.39px;top:227.3px;width:200px;text-align:center;font:normal 6.3px/6.3px 'Liberation Serif', serif;color:#000;">72h</div>
<div class="t" style="left:337.39px;top:234.15px;width:200px;text-align:center;font:normal 6.4px/6.4px 'Liberation Serif', serif;color:#000;">10mg</div>
<div class="t" style="left:337.39px;top:240.7px;width:200px;text-align:center;font:normal 6.2px/6.2px 'Liberation Serif', serif;color:#000;">zymosan</div>
<div class="t" style="left:406.85px;top:227.3px;width:200px;text-align:center;font:normal 6.3px/6.3px 'Liberation Serif', serif;color:#000;">72h</div>
<div class="t" style="left:406.85px;top:234.15px;width:200px;text-align:center;font:normal 6.4px/6.4px 'Liberation Serif', serif;color:#000;">10mg</div>
<div class="t" style="left:406.85px;top:240.7px;width:200px;text-align:center;font:normal 6.2px/6.2px 'Liberation Serif', serif;color:#000;">zymosan</div>
<div class="b" style="left:378.16px;top:233.8px;width:46.43px;height:1.1px;background:#222;"></div>
<div class="t" style="left:302.25px;top:236.4px;width:200px;text-align:center;font:normal 7px/7px 'Liberation Serif', serif;color:#000;letter-spacing:0px;">Ly6C<sup>+</sup>F480<sup>+</sup></div>
<div class="t" style="left:302.25px;top:245.85px;width:200px;text-align:center;font:normal 5.9px/5.9px 'Liberation Serif', serif;color:#000;">(0.1mg zymosan)</div>
<div class="b" style="left:445.32px;top:233.8px;width:47.5px;height:1.1px;background:#222;"></div>
<div class="t" style="left:372.07px;top:236.4px;width:200px;text-align:center;font:normal 7px/7px 'Liberation Serif', serif;color:#000;letter-spacing:0px;">Ly6C<sup>-</sup>F480<sup>hi</sup></div>
<div class="t" style="left:372.07px;top:245.85px;width:200px;text-align:center;font:normal 5.9px/5.9px 'Liberation Serif', serif;color:#000;">(0.1mg zymosan)</div>
<div class="b" style="left:50.5px;top:277.4px;width:1px;height:85.1px;background:#9a9a9a;"></div>
<div class="b" style="left:50.5px;top:361.5px;width:132.5px;height:1px;background:#9a9a9a;"></div>
<div class="b" style="left:48.5px;top:361.5px;width:2.5px;height:1px;background:#9a9a9a;"></div>
<div class="t" style="left:-153px;top:359.7px;width:200px;text-align:right;font:bold 5.8px/5.8px 'Liberation Serif', serif;color:#000;">0.000000</div>
<div class="b" style="left:48.5px;top:349.41px;width:2.5px;height:1px;background:#9a9a9a;"></div>
<div class="t" style="left:-153px;top:347.61px;width:200px;text-align:right;font:bold 5.8px/5.8px 'Liberation Serif', serif;color:#000;">0.000025</div>
<div class="b" style="left:48.5px;top:337.33px;width:2.5px;height:1px;background:#9a9a9a;"></div>
<div class="t" style="left:-153px;top:335.53px;width:200px;text-align:right;font:bold 5.8px/5.8px 'Liberation Serif', serif;color:#000;">0.000050</div>
<div class="b" style="left:48.5px;top:325.24px;width:2.5px;height:1px;background:#9a9a9a;"></div>
<div class="t" style="left:-153px;top:323.44px;width:200px;text-align:right;font:bold 5.8px/5.8px 'Liberation Serif', serif;color:#000;">0.000075</div>
<div class="b" style="left:48.5px;top:313.16px;width:2.5px;height:1px;background:#9a9a9a;"></div>
<div class="t" style="left:-153px;top:311.36px;width:200px;text-align:right;font:bold 5.8px/5.8px 'Liberation Serif', serif;color:#000;">0.000100</div>
<div class="b" style="left:48.5px;top:301.07px;width:2.5px;height:1px;background:#9a9a9a;"></div>
<div class="t" style="left:-153px;top:299.27px;width:200px;text-align:right;font:bold 5.8px/5.8px 'Liberation Serif', serif;color:#000;">0.000125</div>
<div class="b" style="left:48.5px;top:288.99px;width:2.5px;height:1px;background:#9a9a9a;"></div>
<div class="t" style="left:-153px;top:287.19px;width:200px;text-align:right;font:bold 5.8px/5.8px 'Liberation Serif', serif;color:#000;">0.000150</div>
<div class="b" style="left:48.5px;top:276.9px;width:2.5px;height:1px;background:#9a9a9a;"></div>
<div class="t" style="left:-153px;top:275.1px;width:200px;text-align:right;font:bold 5.8px/5.8px 'Liberation Serif', serif;color:#000;">0.000175</div>
<div class="t" style="left:-41.7px;top:317.95px;width:120px;text-align:center;font:bold 6.7px/6.7px 'Liberation Serif', serif;color:#000;transform:rotate(-90deg);">Tnfsf4 (AU)</div>
<div class="b" style="left:59.5px;top:291.5px;width:1px;height:10.5px;background:#7a7a7a;"></div>
<div class="b" style="left:57.5px;top:291px;width:5px;height:1px;background:#7a7a7a;"></div>
<div class="b" style="left:54.5px;top:302px;width:11px;height:60px;background:#050505;"></div>
<div class="b" style="left:75.75px;top:337.5px;width:1px;height:4px;background:#7a7a7a;"></div>
<div class="b" style="left:73.75px;top:337px;width:5px;height:1px;background:#7a7a7a;"></div>
<div class="b" style="left:70.75px;top:341.5px;width:11px;height:20.5px;background:#050505;"></div>
<div class="b" style="left:92px;top:351.5px;width:1px;height:1px;background:#7a7a7a;"></div>
<div class="b" style="left:90px;top:351px;width:5px;height:1px;background:#7a7a7a;"></div>
<div class="b" style="left:87px;top:352.5px;width:11px;height:9.5px;background:#050505;"></div>
<div class="b" style="left:108.62px;top:355px;width:1px;height:2px;background:#7a7a7a;"></div>
<div class="b" style="left:106.62px;top:354.5px;width:5px;height:1px;background:#7a7a7a;"></div>
<div class="b" style="left:103.75px;top:357px;width:10.75px;height:5px;background:#050505;"></div>
<div class="b" style="left:124.75px;top:323.25px;width:1px;height:10.25px;background:#7a7a7a;"></div>
<div class="b" style="left:122.75px;top:322.75px;width:5px;height:1px;background:#7a7a7a;"></div>
<div class="b" style="left:119.75px;top:333px;width:11px;height:29.5px;background:#fff;border:1px solid #7a7a7a;box-sizing:border-box;"></div>
<div class="b" style="left:141px;top:304.5px;width:1px;height:2.75px;background:#7a7a7a;"></div>
<div class="b" style="left:139px;top:304px;width:5px;height:1px;background:#7a7a7a;"></div>
<div class="b" style="left:136px;top:306.75px;width:11px;height:55.75px;background:#fff;border:1px solid #7a7a7a;box-sizing:border-box;"></div>
<div class="b" style="left:157.38px;top:288.5px;width:1px;height:9.75px;background:#7a7a7a;"></div>
<div class="b" style="left:155.38px;top:288px;width:5px;height:1px;background:#7a7a7a;"></div>
<div class="b" style="left:152.25px;top:297.75px;width:11.25px;height:64.75px;background:#fff;border:1px solid #7a7a7a;box-sizing:border-box;"></div>
<div class="b" style="left:173.62px;top:326.25px;width:1px;height:4.25px;background:#7a7a7a;"></div>
<div class="b" style="left:171.62px;top:325.75px;width:5px;height:1px;background:#7a7a7a;"></div>
<div class="b" style="left:168.5px;top:330px;width:11.25px;height:32.5px;background:#fff;border:1px solid #7a7a7a;box-sizing:border-box;"></div>
<div class="t" style="left:-43.68px;top:364.3px;width:200px;text-align:center;font:normal 6.3px/6.3px 'Liberation Serif', serif;color:#000;">24h</div>
<div class="t" style="left:-26.28px;top:364.3px;width:200px;text-align:center;font:normal 6.3px/6.3px 'Liberation Serif', serif;color:#000;">48h</div>
<div class="t" style="left:-8.88px;top:364.3px;width:200px;text-align:center;font:normal 6.3px/6.3px 'Liberation Serif', serif;color:#000;">72h</div>
<div class="t" style="left:26.19px;top:364.3px;width:200px;text-align:center;font:normal 6.3px/6.3px 'Liberation Serif', serif;color:#000;">24h</div>
<div class="t" style="left:43.59px;top:364.3px;width:200px;text-align:center;font:normal 6.3px/6.3px 'Liberation Serif', serif;color:#000;">48h</div>
<div class="t" style="left:61.12px;top:364.3px;width:200px;text-align:center;font:normal 6.3px/6.3px 'Liberation Serif', serif;color:#000;">72h</div>
<div class="t" style="left:8.92px;top:364.3px;width:200px;text-align:center;font:normal 6.3px/6.3px 'Liberation Serif', serif;color:#000;">72h</div>
<div class="t" style="left:8.92px;top:371.15px;width:200px;text-align:center;font:normal 6.4px/6.4px 'Liberation Serif', serif;color:#000;">10mg</div>
<div class="t" style="left:8.92px;top:377.7px;width:200px;text-align:center;font:normal 6.2px/6.2px 'Liberation Serif', serif;color:#000;">zymosan</div>
<div class="t" style="left:78.52px;top:364.3px;width:200px;text-align:center;font:normal 6.3px/6.3px 'Liberation Serif', serif;color:#000;">72h</div>
<div class="t" style="left:78.52px;top:371.15px;width:200px;text-align:center;font:normal 6.4px/6.4px 'Liberation Serif', serif;color:#000;">10mg</div>
<div class="t" style="left:78.52px;top:377.7px;width:200px;text-align:center;font:normal 6.2px/6.2px 'Liberation Serif', serif;color:#000;">zymosan</div>
<div class="b" style="left:49.43px;top:370.8px;width:46.58px;height:1.1px;background:#222;"></div>
<div class="t" style="left:-26.28px;top:373.4px;width:200px;text-align:center;font:normal 7px/7px 'Liberation Serif', serif;color:#000;letter-spacing:0px;">Ly6C<sup>+</sup>F480<sup>+</sup></div>
<div class="t" style="left:-26.28px;top:382.85px;width:200px;text-align:center;font:normal 5.9px/5.9px 'Liberation Serif', serif;color:#000;">(0.1mg zymosan)</div>
<div class="b" style="left:117.3px;top:370.8px;width:46.84px;height:1.1px;background:#222;"></div>
<div class="t" style="left:43.59px;top:373.4px;width:200px;text-align:center;font:normal 7px/7px 'Liberation Serif', serif;color:#000;letter-spacing:0px;">Ly6C<sup>-</sup>F480<sup>hi</sup></div>
<div class="t" style="left:43.59px;top:382.85px;width:200px;text-align:center;font:normal 5.9px/5.9px 'Liberation Serif', serif;color:#000;">(0.1mg zymosan)</div>
<div class="b" style="left:216.1px;top:276px;width:1px;height:86px;background:#9a9a9a;"></div>
<div class="b" style="left:216.1px;top:361px;width:135.9px;height:1px;background:#9a9a9a;"></div>
<div class="b" style="left:214.1px;top:361px;width:2.5px;height:1px;background:#9a9a9a;"></div>
<div class="t" style="left:11.8px;top:359.2px;width:200px;text-align:right;font:bold 5.8px/5.8px 'Liberation Serif', serif;color:#000;">0.00000</div>
<div class="b" style="left:214.1px;top:351.5px;width:2.5px;height:1px;background:#9a9a9a;"></div>
<div class="t" style="left:11.8px;top:349.7px;width:200px;text-align:right;font:bold 5.8px/5.8px 'Liberation Serif', serif;color:#000;">0.00001</div>
<div class="b" style="left:214.1px;top:342px;width:2.5px;height:1px;background:#9a9a9a;"></div>
<div class="t" style="left:11.8px;top:340.2px;width:200px;text-align:right;font:bold 5.8px/5.8px 'Liberation Serif', serif;color:#000;">0.00002</div>
<div class="b" style="left:214.1px;top:332.5px;width:2.5px;height:1px;background:#9a9a9a;"></div>
<div class="t" style="left:11.8px;top:330.7px;width:200px;text-align:right;font:bold 5.8px/5.8px 'Liberation Serif', serif;color:#000;">0.00003</div>
<div class="b" style="left:214.1px;top:323px;width:2.5px;height:1px;background:#9a9a9a;"></div>
<div class="t" style="left:11.8px;top:321.2px;width:200px;text-align:right;font:bold 5.8px/5.8px 'Liberation Serif', serif;color:#000;">0.00004</div>
<div class="b" style="left:214.1px;top:313.5px;width:2.5px;height:1px;background:#9a9a9a;"></div>
<div class="t" style="left:11.8px;top:311.7px;width:200px;text-align:right;font:bold 5.8px/5.8px 'Liberation Serif', serif;color:#000;">0.00005</div>
<div class="b" style="left:214.1px;top:304px;width:2.5px;height:1px;background:#9a9a9a;"></div>
<div class="t" style="left:11.8px;top:302.2px;width:200px;text-align:right;font:bold 5.8px/5.8px 'Liberation Serif', serif;color:#000;">0.00006</div>
<div class="b" style="left:214.1px;top:294.5px;width:2.5px;height:1px;background:#9a9a9a;"></div>
<div class="t" style="left:11.8px;top:292.7px;width:200px;text-align:right;font:bold 5.8px/5.8px 'Liberation Serif', serif;color:#000;">0.00007</div>
<div class="b" style="left:214.1px;top:285px;width:2.5px;height:1px;background:#9a9a9a;"></div>
<div class="t" style="left:11.8px;top:283.2px;width:200px;text-align:right;font:bold 5.8px/5.8px 'Liberation Serif', serif;color:#000;">0.00008</div>
<div class="b" style="left:214.1px;top:275.5px;width:2.5px;height:1px;background:#9a9a9a;"></div>
<div class="t" style="left:11.8px;top:273.7px;width:200px;text-align:right;font:bold 5.8px/5.8px 'Liberation Serif', serif;color:#000;">0.00009</div>
<div class="t" style="left:128.4px;top:321.2px;width:120px;text-align:center;font:bold 6px/6px 'Liberation Serif', serif;color:#000;transform:rotate(-90deg);">Serpinb6b (AU)</div>
<div class="b" style="left:224.88px;top:292.5px;width:1px;height:14.25px;background:#7a7a7a;"></div>
<div class="b" style="left:222.88px;top:292px;width:5px;height:1px;background:#7a7a7a;"></div>
<div class="b" style="left:220px;top:306.75px;width:10.75px;height:54.75px;background:#050505;"></div>
<div class="b" style="left:241.38px;top:335.5px;width:1px;height:6.25px;background:#7a7a7a;"></div>
<div class="b" style="left:239.38px;top:335px;width:5px;height:1px;background:#7a7a7a;"></div>
<div class="b" style="left:236.25px;top:341.75px;width:11.25px;height:19.75px;background:#050505;"></div>
<div class="b" style="left:257.75px;top:335px;width:1px;height:6.25px;background:#7a7a7a;"></div>
<div class="b" style="left:255.75px;top:334.5px;width:5px;height:1px;background:#7a7a7a;"></div>
<div class="b" style="left:252.75px;top:341.25px;width:11px;height:20.25px;background:#050505;"></div>
<div class="b" style="left:274.62px;top:349.5px;width:1px;height:3.75px;background:#7a7a7a;"></div>
<div class="b" style="left:272.62px;top:349px;width:5px;height:1px;background:#7a7a7a;"></div>
<div class="b" style="left:269.5px;top:353.25px;width:11.25px;height:8.25px;background:#050505;"></div>
<div class="b" style="left:291.55px;top:319.5px;width:1px;height:2.75px;background:#7a7a7a;"></div>
<div class="b" style="left:289.55px;top:319px;width:5px;height:1px;background:#7a7a7a;"></div>
<div class="b" style="left:286.5px;top:321.75px;width:11.1px;height:40.25px;background:#fff;border:1px solid #7a7a7a;box-sizing:border-box;"></div>
<div class="b" style="left:308.2px;top:313.1px;width:1px;height:12.8px;background:#7a7a7a;"></div>
<div class="b" style="left:306.2px;top:312.6px;width:5px;height:1px;background:#7a7a7a;"></div>
<div class="b" style="left:303.1px;top:325.4px;width:11.2px;height:36.6px;background:#fff;border:1px solid #7a7a7a;box-sizing:border-box;"></div>
<div class="b" style="left:325.12px;top:300.75px;width:1px;height:8.75px;background:#7a7a7a;"></div>
<div class="b" style="left:323.12px;top:300.25px;width:5px;height:1px;background:#7a7a7a;"></div>
<div class="b" style="left:320px;top:309px;width:11.25px;height:53px;background:#fff;border:1px solid #7a7a7a;box-sizing:border-box;"></div>
<div class="b" style="left:342px;top:276.25px;width:1px;height:16.5px;background:#7a7a7a;"></div>
<div class="b" style="left:340px;top:275.75px;width:5px;height:1px;background:#7a7a7a;"></div>
<div class="b" style="left:336.75px;top:292.25px;width:11.5px;height:69.75px;background:#fff;border:1px solid #7a7a7a;box-sizing:border-box;"></div>
<div class="t" style="left:124.1px;top:364.4px;width:200px;text-align:center;font:normal 6.3px/6.3px 'Liberation Serif', serif;color:#000;">24h</div>
<div class="t" style="left:141.33px;top:364.4px;width:200px;text-align:center;font:normal 6.3px/6.3px 'Liberation Serif', serif;color:#000;">48h</div>
<div class="t" style="left:158.43px;top:364.4px;width:200px;text-align:center;font:normal 6.3px/6.3px 'Liberation Serif', serif;color:#000;">72h</div>
<div class="t" style="left:193.73px;top:364.4px;width:200px;text-align:center;font:normal 6.3px/6.3px 'Liberation Serif', serif;color:#000;">24h</div>
<div class="t" style="left:211.11px;top:364.4px;width:200px;text-align:center;font:normal 6.3px/6.3px 'Liberation Serif', serif;color:#000;">48h</div>
<div class="t" style="left:228.78px;top:364.4px;width:200px;text-align:center;font:normal 6.3px/6.3px 'Liberation Serif', serif;color:#000;">72h</div>
<div class="t" style="left:176.05px;top:364.4px;width:200px;text-align:center;font:normal 6.3px/6.3px 'Liberation Serif', serif;color:#000;">72h</div>
<div class="t" style="left:176.05px;top:371.25px;width:200px;text-align:center;font:normal 6.4px/6.4px 'Liberation Serif', serif;color:#000;">10mg</div>
<div class="t" style="left:176.05px;top:377.8px;width:200px;text-align:center;font:normal 6.2px/6.2px 'Liberation Serif', serif;color:#000;">zymosan</div>
<div class="t" style="left:246.4px;top:364.4px;width:200px;text-align:center;font:normal 6.3px/6.3px 'Liberation Serif', serif;color:#000;">72h</div>
<div class="t" style="left:246.4px;top:371.25px;width:200px;text-align:center;font:normal 6.4px/6.4px 'Liberation Serif', serif;color:#000;">10mg</div>
<div class="t" style="left:246.4px;top:377.8px;width:200px;text-align:center;font:normal 6.2px/6.2px 'Liberation Serif', serif;color:#000;">zymosan</div>
<div class="b" style="left:217.49px;top:370.9px;width:45.68px;height:1.1px;background:#222;"></div>
<div class="t" style="left:141.33px;top:373.5px;width:200px;text-align:center;font:normal 7px/7px 'Liberation Serif', serif;color:#000;letter-spacing:0px;">Ly6C<sup>+</sup>F480<sup>+</sup></div>
<div class="t" style="left:141.33px;top:382.95px;width:200px;text-align:center;font:normal 5.9px/5.9px 'Liberation Serif', serif;color:#000;">(0.1mg zymosan)</div>
<div class="b" style="left:284.93px;top:370.9px;width:46.73px;height:1.1px;background:#222;"></div>
<div class="t" style="left:211.11px;top:373.5px;width:200px;text-align:center;font:normal 7px/7px 'Liberation Serif', serif;color:#000;letter-spacing:0px;">Ly6C<sup>-</sup>F480<sup>hi</sup></div>
<div class="t" style="left:211.11px;top:382.95px;width:200px;text-align:center;font:normal 5.9px/5.9px 'Liberation Serif', serif;color:#000;">(0.1mg zymosan)</div>
<div class="b" style="left:377.7px;top:277.5px;width:1px;height:84px;background:#9a9a9a;"></div>
<div class="b" style="left:377.7px;top:360.5px;width:131.7px;height:1px;background:#9a9a9a;"></div>
<div class="b" style="left:375.7px;top:360.5px;width:2.5px;height:1px;background:#9a9a9a;"></div>
<div class="t" style="left:173.5px;top:358.7px;width:200px;text-align:right;font:bold 5.8px/5.8px 'Liberation Serif', serif;color:#000;">0.000</div>
<div class="b" style="left:375.7px;top:348.57px;width:2.5px;height:1px;background:#9a9a9a;"></div>
<div class="t" style="left:173.5px;top:346.77px;width:200px;text-align:right;font:bold 5.8px/5.8px 'Liberation Serif', serif;color:#000;">0.025</div>
<div class="b" style="left:375.7px;top:336.64px;width:2.5px;height:1px;background:#9a9a9a;"></div>
<div class="t" style="left:173.5px;top:334.84px;width:200px;text-align:right;font:bold 5.8px/5.8px 'Liberation Serif', serif;color:#000;">0.050</div>
<div class="b" style="left:375.7px;top:324.71px;width:2.5px;height:1px;background:#9a9a9a;"></div>
<div class="t" style="left:173.5px;top:322.91px;width:200px;text-align:right;font:bold 5.8px/5.8px 'Liberation Serif', serif;color:#000;">0.075</div>
<div class="b" style="left:375.7px;top:312.79px;width:2.5px;height:1px;background:#9a9a9a;"></div>
<div class="t" style="left:173.5px;top:310.99px;width:200px;text-align:right;font:bold 5.8px/5.8px 'Liberation Serif', serif;color:#000;">0.100</div>
<div class="b" style="left:375.7px;top:300.86px;width:2.5px;height:1px;background:#9a9a9a;"></div>
<div class="t" style="left:173.5px;top:299.06px;width:200px;text-align:right;font:bold 5.8px/5.8px 'Liberation Serif', serif;color:#000;">0.125</div>
<div class="b" style="left:375.7px;top:288.93px;width:2.5px;height:1px;background:#9a9a9a;"></div>
<div class="t" style="left:173.5px;top:287.13px;width:200px;text-align:right;font:bold 5.8px/5.8px 'Liberation Serif', serif;color:#000;">0.150</div>
<div class="b" style="left:375.7px;top:277px;width:2.5px;height:1px;background:#9a9a9a;"></div>
<div class="t" style="left:173.5px;top:275.2px;width:200px;text-align:right;font:bold 5.8px/5.8px 'Liberation Serif', serif;color:#000;">0.175</div>
<div class="t" style="left:295.2px;top:319.7px;width:120px;text-align:center;font:bold 5.8px/5.8px 'Liberation Serif', serif;color:#000;transform:rotate(-90deg);">Abcc15 (AU)</div>
<div class="b" style="left:380.5px;top:360px;width:11.5px;height:1px;background:#050505;"></div>
<div class="b" style="left:402.25px;top:357px;width:1px;height:0.75px;background:#7a7a7a;"></div>
<div class="b" style="left:400.25px;top:356.5px;width:5px;height:1px;background:#7a7a7a;"></div>
<div class="b" style="left:397px;top:357.75px;width:11.5px;height:3.25px;background:#050505;"></div>
<div class="b" style="left:413.75px;top:358.25px;width:11.75px;height:2.75px;background:#050505;"></div>
<div class="b" style="left:430.5px;top:360.7px;width:12px;height:0.3px;background:#050505;"></div>
<div class="b" style="left:451.7px;top:344.7px;width:1px;height:2.6px;background:#7a7a7a;"></div>
<div class="b" style="left:449.7px;top:344.2px;width:5px;height:1px;background:#7a7a7a;"></div>
<div class="b" style="left:446.6px;top:346.8px;width:11.2px;height:14.7px;background:#fff;border:1px solid #7a7a7a;box-sizing:border-box;"></div>
<div class="b" style="left:468.4px;top:332.3px;width:1px;height:6.6px;background:#7a7a7a;"></div>
<div class="b" style="left:466.4px;top:331.8px;width:5px;height:1px;background:#7a7a7a;"></div>
<div class="b" style="left:463.4px;top:338.4px;width:11px;height:23.1px;background:#fff;border:1px solid #7a7a7a;box-sizing:border-box;"></div>
<div class="b" style="left:484.5px;top:282.7px;width:1px;height:15px;background:#7a7a7a;"></div>
<div class="b" style="left:482.5px;top:282.2px;width:5px;height:1px;background:#7a7a7a;"></div>
<div class="b" style="left:479.2px;top:297.2px;width:11.6px;height:64.3px;background:#fff;border:1px solid #7a7a7a;box-sizing:border-box;"></div>
<div class="b" style="left:496px;top:360px;width:11.5px;height:1.5px;background:#fff;border:1px solid #7a7a7a;box-sizing:border-box;"></div>
<div class="t" style="left:284.75px;top:363.2px;width:200px;text-align:center;font:normal 6.3px/6.3px 'Liberation Serif', serif;color:#000;">24h</div>
<div class="t" style="left:302.24px;top:363.2px;width:200px;text-align:center;font:normal 6.3px/6.3px 'Liberation Serif', serif;color:#000;">48h</div>
<div class="t" style="left:320.12px;top:363.2px;width:200px;text-align:center;font:normal 6.3px/6.3px 'Liberation Serif', serif;color:#000;">72h</div>
<div class="t" style="left:354.65px;top:363.2px;width:200px;text-align:center;font:normal 6.3px/6.3px 'Liberation Serif', serif;color:#000;">24h</div>
<div class="t" style="left:372.35px;top:363.2px;width:200px;text-align:center;font:normal 6.3px/6.3px 'Liberation Serif', serif;color:#000;">48h</div>
<div class="t" style="left:389.41px;top:363.2px;width:200px;text-align:center;font:normal 6.3px/6.3px 'Liberation Serif', serif;color:#000;">72h</div>
<div class="t" style="left:338.01px;top:363.2px;width:200px;text-align:center;font:normal 6.3px/6.3px 'Liberation Serif', serif;color:#000;">72h</div>
<div class="t" style="left:338.01px;top:370.05px;width:200px;text-align:center;font:normal 6.4px/6.4px 'Liberation Serif', serif;color:#000;">10mg</div>
<div class="t" style="left:338.01px;top:376.6px;width:200px;text-align:center;font:normal 6.2px/6.2px 'Liberation Serif', serif;color:#000;">zymosan</div>
<div class="t" style="left:407.16px;top:363.2px;width:200px;text-align:center;font:normal 6.3px/6.3px 'Liberation Serif', serif;color:#000;">72h</div>
<div class="t" style="left:407.16px;top:370.05px;width:200px;text-align:center;font:normal 6.4px/6.4px 'Liberation Serif', serif;color:#000;">10mg</div>
<div class="t" style="left:407.16px;top:376.6px;width:200px;text-align:center;font:normal 6.2px/6.2px 'Liberation Serif', serif;color:#000;">zymosan</div>
<div class="b" style="left:377.65px;top:369.7px;width:47.7px;height:1.1px;background:#222;"></div>
<div class="t" style="left:302.24px;top:372.3px;width:200px;text-align:center;font:normal 7px/7px 'Liberation Serif', serif;color:#000;letter-spacing:0px;">Ly6C<sup>+</sup>F480<sup>+</sup></div>
<div class="t" style="left:302.24px;top:381.75px;width:200px;text-align:center;font:normal 5.9px/5.9px 'Liberation Serif', serif;color:#000;">(0.1mg zymosan)</div>
<div class="b" style="left:445.71px;top:369.7px;width:46.85px;height:1.1px;background:#222;"></div>
<div class="t" style="left:372.35px;top:372.3px;width:200px;text-align:center;font:normal 7px/7px 'Liberation Serif', serif;color:#000;letter-spacing:0px;">Ly6C<sup>-</sup>F480<sup>hi</sup></div>
<div class="t" style="left:372.35px;top:381.75px;width:200px;text-align:center;font:normal 5.9px/5.9px 'Liberation Serif', serif;color:#000;">(0.1mg zymosan)</div>
<div class="b" style="left:45.1px;top:408.9px;width:1px;height:75.5px;background:#9a9a9a;"></div>
<div class="b" style="left:45.1px;top:483.4px;width:140.9px;height:1px;background:#9a9a9a;"></div>
<div class="b" style="left:43.1px;top:483.4px;width:2.5px;height:1px;background:#9a9a9a;"></div>
<div class="t" style="left:-157.2px;top:481.6px;width:200px;text-align:right;font:bold 5.8px/5.8px 'Liberation Serif', serif;color:#000;">0.000</div>
<div class="b" style="left:43.1px;top:474.02px;width:2.5px;height:1px;background:#9a9a9a;"></div>
<div class="t" style="left:-157.2px;top:472.23px;width:200px;text-align:right;font:bold 5.8px/5.8px 'Liberation Serif', serif;color:#000;">0.001</div>
<div class="b" style="left:43.1px;top:464.65px;width:2.5px;height:1px;background:#9a9a9a;"></div>
<div class="t" style="left:-157.2px;top:462.85px;width:200px;text-align:right;font:bold 5.8px/5.8px 'Liberation Serif', serif;color:#000;">0.002</div>
<div class="b" style="left:43.1px;top:455.27px;width:2.5px;height:1px;background:#9a9a9a;"></div>
<div class="t" style="left:-157.2px;top:453.48px;width:200px;text-align:right;font:bold 5.8px/5.8px 'Liberation Serif', serif;color:#000;">0.003</div>
<div class="b" style="left:43.1px;top:445.9px;width:2.5px;height:1px;background:#9a9a9a;"></div>
<div class="t" style="left:-157.2px;top:444.1px;width:200px;text-align:right;font:bold 5.8px/5.8px 'Liberation Serif', serif;color:#000;">0.004</div>
<div class="b" style="left:43.1px;top:436.52px;width:2.5px;height:1px;background:#9a9a9a;"></div>
<div class="t" style="left:-157.2px;top:434.73px;width:200px;text-align:right;font:bold 5.8px/5.8px 'Liberation Serif', serif;color:#000;">0.005</div>
<div class="b" style="left:43.1px;top:427.15px;width:2.5px;height:1px;background:#9a9a9a;"></div>
<div class="t" style="left:-157.2px;top:425.35px;width:200px;text-align:right;font:bold 5.8px/5.8px 'Liberation Serif', serif;color:#000;">0.006</div>
<div class="b" style="left:43.1px;top:417.77px;width:2.5px;height:1px;background:#9a9a9a;"></div>
<div class="t" style="left:-157.2px;top:415.98px;width:200px;text-align:right;font:bold 5.8px/5.8px 'Liberation Serif', serif;color:#000;">0.007</div>
<div class="b" style="left:43.1px;top:408.4px;width:2.5px;height:1px;background:#9a9a9a;"></div>
<div class="t" style="left:-157.2px;top:406.6px;width:200px;text-align:right;font:bold 5.8px/5.8px 'Liberation Serif', serif;color:#000;">0.008</div>
<div class="t" style="left:-36.8px;top:445.85px;width:120px;text-align:center;font:bold 5.7px/5.7px 'Liberation Serif', serif;color:#000;transform:rotate(-90deg);">Timd4 (AU)</div>
<div class="b" style="left:49px;top:478px;width:11.75px;height:5.9px;background:#050505;"></div>
<div class="b" style="left:66px;top:479px;width:11.75px;height:4.9px;background:#050505;"></div>
<div class="b" style="left:83.25px;top:481.75px;width:11.75px;height:2.15px;background:#050505;"></div>
<div class="b" style="left:100.5px;top:483px;width:11.5px;height:0.9px;background:#050505;"></div>
<div class="b" style="left:123.5px;top:467.4px;width:1px;height:1.85px;background:#7a7a7a;"></div>
<div class="b" style="left:121.5px;top:466.9px;width:5px;height:1px;background:#7a7a7a;"></div>
<div class="b" style="left:118px;top:468.75px;width:12px;height:15.65px;background:#fff;border:1px solid #7a7a7a;box-sizing:border-box;"></div>
<div class="b" style="left:141px;top:448.25px;width:1px;height:5px;background:#7a7a7a;"></div>
<div class="b" style="left:139px;top:447.75px;width:5px;height:1px;background:#7a7a7a;"></div>
<div class="b" style="left:135.5px;top:452.75px;width:12px;height:31.65px;background:#fff;border:1px solid #7a7a7a;box-sizing:border-box;"></div>
<div class="b" style="left:157.88px;top:413px;width:1px;height:10.25px;background:#7a7a7a;"></div>
<div class="b" style="left:155.88px;top:412.5px;width:5px;height:1px;background:#7a7a7a;"></div>
<div class="b" style="left:152.25px;top:422.75px;width:12.25px;height:61.65px;background:#fff;border:1px solid #7a7a7a;box-sizing:border-box;"></div>
<div class="b" style="left:175.88px;top:457.75px;width:1px;height:5.25px;background:#7a7a7a;"></div>
<div class="b" style="left:173.88px;top:457.25px;width:5px;height:1px;background:#7a7a7a;"></div>
<div class="b" style="left:170.25px;top:462.5px;width:12.25px;height:21.9px;background:#fff;border:1px solid #7a7a7a;box-sizing:border-box;"></div>
<div class="t" style="left:-45.72px;top:485.1px;width:200px;text-align:center;font:normal 6.3px/6.3px 'Liberation Serif', serif;color:#000;">24h</div>
<div class="t" style="left:-28.58px;top:485.1px;width:200px;text-align:center;font:normal 6.3px/6.3px 'Liberation Serif', serif;color:#000;">48h</div>
<div class="t" style="left:-11.19px;top:485.1px;width:200px;text-align:center;font:normal 6.3px/6.3px 'Liberation Serif', serif;color:#000;">72h</div>
<div class="t" style="left:23.97px;top:485.1px;width:200px;text-align:center;font:normal 6.3px/6.3px 'Liberation Serif', serif;color:#000;">24h</div>
<div class="t" style="left:41.61px;top:485.1px;width:200px;text-align:center;font:normal 6.3px/6.3px 'Liberation Serif', serif;color:#000;">48h</div>
<div class="t" style="left:58.63px;top:485.1px;width:200px;text-align:center;font:normal 6.3px/6.3px 'Liberation Serif', serif;color:#000;">72h</div>
<div class="t" style="left:6.07px;top:485.1px;width:200px;text-align:center;font:normal 6.3px/6.3px 'Liberation Serif', serif;color:#000;">72h</div>
<div class="t" style="left:6.07px;top:491.95px;width:200px;text-align:center;font:normal 6.4px/6.4px 'Liberation Serif', serif;color:#000;">10mg</div>
<div class="t" style="left:6.07px;top:498.5px;width:200px;text-align:center;font:normal 6.2px/6.2px 'Liberation Serif', serif;color:#000;">zymosan</div>
<div class="t" style="left:76.78px;top:485.1px;width:200px;text-align:center;font:normal 6.3px/6.3px 'Liberation Serif', serif;color:#000;">72h</div>
<div class="t" style="left:76.78px;top:491.95px;width:200px;text-align:center;font:normal 6.4px/6.4px 'Liberation Serif', serif;color:#000;">10mg</div>
<div class="t" style="left:76.78px;top:498.5px;width:200px;text-align:center;font:normal 6.2px/6.2px 'Liberation Serif', serif;color:#000;">zymosan</div>
<div class="b" style="left:47.35px;top:491.6px;width:46.38px;height:1.1px;background:#222;"></div>
<div class="t" style="left:-28.58px;top:494.2px;width:200px;text-align:center;font:normal 7px/7px 'Liberation Serif', serif;color:#000;letter-spacing:0px;">Ly6C<sup>+</sup>F480<sup>+</sup></div>
<div class="t" style="left:-28.58px;top:503.65px;width:200px;text-align:center;font:normal 5.9px/5.9px 'Liberation Serif', serif;color:#000;">(0.1mg zymosan)</div>
<div class="b" style="left:114.92px;top:491.6px;width:46.88px;height:1.1px;background:#222;"></div>
<div class="t" style="left:41.61px;top:494.2px;width:200px;text-align:center;font:normal 7px/7px 'Liberation Serif', serif;color:#000;letter-spacing:0px;">Ly6C<sup>-</sup>F480<sup>hi</sup></div>
<div class="t" style="left:41.61px;top:503.65px;width:200px;text-align:center;font:normal 5.9px/5.9px 'Liberation Serif', serif;color:#000;">(0.1mg zymosan)</div>
<div class="b" style="left:211.8px;top:407.5px;width:1px;height:75px;background:#9a9a9a;"></div>
<div class="b" style="left:211.8px;top:481.5px;width:142.2px;height:1px;background:#9a9a9a;"></div>
<div class="b" style="left:209.8px;top:481.5px;width:2.5px;height:1px;background:#9a9a9a;"></div>
<div class="t" style="left:9.4px;top:479.7px;width:200px;text-align:right;font:bold 5.8px/5.8px 'Liberation Serif', serif;color:#000;">0.000</div>
<div class="b" style="left:209.8px;top:470.86px;width:2.5px;height:1px;background:#9a9a9a;"></div>
<div class="t" style="left:9.4px;top:469.06px;width:200px;text-align:right;font:bold 5.8px/5.8px 'Liberation Serif', serif;color:#000;">0.001</div>
<div class="b" style="left:209.8px;top:460.21px;width:2.5px;height:1px;background:#9a9a9a;"></div>
<div class="t" style="left:9.4px;top:458.41px;width:200px;text-align:right;font:bold 5.8px/5.8px 'Liberation Serif', serif;color:#000;">0.002</div>
<div class="b" style="left:209.8px;top:449.57px;width:2.5px;height:1px;background:#9a9a9a;"></div>
<div class="t" style="left:9.4px;top:447.77px;width:200px;text-align:right;font:bold 5.8px/5.8px 'Liberation Serif', serif;color:#000;">0.003</div>
<div class="b" style="left:209.8px;top:438.93px;width:2.5px;height:1px;background:#9a9a9a;"></div>
<div class="t" style="left:9.4px;top:437.13px;width:200px;text-align:right;font:bold 5.8px/5.8px 'Liberation Serif', serif;color:#000;">0.004</div>
<div class="b" style="left:209.8px;top:428.29px;width:2.5px;height:1px;background:#9a9a9a;"></div>
<div class="t" style="left:9.4px;top:426.49px;width:200px;text-align:right;font:bold 5.8px/5.8px 'Liberation Serif', serif;color:#000;">0.005</div>
<div class="b" style="left:209.8px;top:417.64px;width:2.5px;height:1px;background:#9a9a9a;"></div>
<div class="t" style="left:9.4px;top:415.84px;width:200px;text-align:right;font:bold 5.8px/5.8px 'Liberation Serif', serif;color:#000;">0.006</div>
<div class="b" style="left:209.8px;top:407px;width:2.5px;height:1px;background:#9a9a9a;"></div>
<div class="t" style="left:9.4px;top:405.2px;width:200px;text-align:right;font:bold 5.8px/5.8px 'Liberation Serif', serif;color:#000;">0.007</div>
<div class="t" style="left:130.1px;top:445.3px;width:120px;text-align:center;font:bold 6px/6px 'Liberation Serif', serif;color:#000;transform:rotate(-90deg);">Tgfb2 (AU)</div>
<div class="b" style="left:215.75px;top:477.75px;width:11.75px;height:4.25px;background:#050505;"></div>
<div class="b" style="left:238.38px;top:474.25px;width:1px;height:1.75px;background:#7a7a7a;"></div>
<div class="b" style="left:236.38px;top:473.75px;width:5px;height:1px;background:#7a7a7a;"></div>
<div class="b" style="left:233px;top:476px;width:11.75px;height:6px;background:#050505;"></div>
<div class="b" style="left:250.5px;top:479.75px;width:11.75px;height:2.25px;background:#050505;"></div>
<div class="b" style="left:268px;top:481px;width:11.5px;height:1px;background:#050505;"></div>
<div class="b" style="left:291.05px;top:459.25px;width:1px;height:2.35px;background:#7a7a7a;"></div>
<div class="b" style="left:289.05px;top:458.75px;width:5px;height:1px;background:#7a7a7a;"></div>
<div class="b" style="left:285.5px;top:461.1px;width:12.1px;height:21.4px;background:#fff;border:1px solid #7a7a7a;box-sizing:border-box;"></div>
<div class="b" style="left:308.95px;top:443.1px;width:1px;height:6.3px;background:#7a7a7a;"></div>
<div class="b" style="left:306.95px;top:442.6px;width:5px;height:1px;background:#7a7a7a;"></div>
<div class="b" style="left:303.4px;top:448.9px;width:12.1px;height:33.6px;background:#fff;border:1px solid #7a7a7a;box-sizing:border-box;"></div>
<div class="b" style="left:326.5px;top:407.5px;width:1px;height:10.5px;background:#7a7a7a;"></div>
<div class="b" style="left:324.5px;top:407px;width:5px;height:1px;background:#7a7a7a;"></div>
<div class="b" style="left:321px;top:417.5px;width:12px;height:65px;background:#fff;border:1px solid #7a7a7a;box-sizing:border-box;"></div>
<div class="b" style="left:344.12px;top:468.75px;width:1px;height:2.5px;background:#7a7a7a;"></div>
<div class="b" style="left:342.12px;top:468.25px;width:5px;height:1px;background:#7a7a7a;"></div>
<div class="b" style="left:338.75px;top:470.75px;width:11.75px;height:11.75px;background:#fff;border:1px solid #7a7a7a;box-sizing:border-box;"></div>
<div class="t" style="left:122.42px;top:484.7px;width:200px;text-align:center;font:normal 6.3px/6.3px 'Liberation Serif', serif;color:#000;">24h</div>
<div class="t" style="left:139.62px;top:484.7px;width:200px;text-align:center;font:normal 6.3px/6.3px 'Liberation Serif', serif;color:#000;">48h</div>
<div class="t" style="left:157.06px;top:484.7px;width:200px;text-align:center;font:normal 6.3px/6.3px 'Liberation Serif', serif;color:#000;">72h</div>
<div class="t" style="left:192.12px;top:484.7px;width:200px;text-align:center;font:normal 6.3px/6.3px 'Liberation Serif', serif;color:#000;">24h</div>
<div class="t" style="left:209.96px;top:484.7px;width:200px;text-align:center;font:normal 6.3px/6.3px 'Liberation Serif', serif;color:#000;">48h</div>
<div class="t" style="left:227.46px;top:484.7px;width:200px;text-align:center;font:normal 6.3px/6.3px 'Liberation Serif', serif;color:#000;">72h</div>
<div class="t" style="left:174.38px;top:484.7px;width:200px;text-align:center;font:normal 6.3px/6.3px 'Liberation Serif', serif;color:#000;">72h</div>
<div class="t" style="left:174.38px;top:491.55px;width:200px;text-align:center;font:normal 6.4px/6.4px 'Liberation Serif', serif;color:#000;">10mg</div>
<div class="t" style="left:174.38px;top:498.1px;width:200px;text-align:center;font:normal 6.2px/6.2px 'Liberation Serif', serif;color:#000;">zymosan</div>
<div class="t" style="left:245.02px;top:484.7px;width:200px;text-align:center;font:normal 6.3px/6.3px 'Liberation Serif', serif;color:#000;">72h</div>
<div class="t" style="left:245.02px;top:491.55px;width:200px;text-align:center;font:normal 6.4px/6.4px 'Liberation Serif', serif;color:#000;">10mg</div>
<div class="t" style="left:245.02px;top:498.1px;width:200px;text-align:center;font:normal 6.2px/6.2px 'Liberation Serif', serif;color:#000;">zymosan</div>
<div class="b" style="left:215.57px;top:491.2px;width:46.35px;height:1.1px;background:#222;"></div>
<div class="t" style="left:139.62px;top:493.8px;width:200px;text-align:center;font:normal 7px/7px 'Liberation Serif', serif;color:#000;letter-spacing:0px;">Ly6C<sup>+</sup>F480<sup>+</sup></div>
<div class="t" style="left:139.62px;top:503.25px;width:200px;text-align:center;font:normal 5.9px/5.9px 'Liberation Serif', serif;color:#000;">(0.1mg zymosan)</div>
<div class="b" style="left:283.09px;top:491.2px;width:47.35px;height:1.1px;background:#222;"></div>
<div class="t" style="left:209.96px;top:493.8px;width:200px;text-align:center;font:normal 7px/7px 'Liberation Serif', serif;color:#000;letter-spacing:0px;">Ly6C<sup>-</sup>F480<sup>hi</sup></div>
<div class="t" style="left:209.96px;top:503.25px;width:200px;text-align:center;font:normal 5.9px/5.9px 'Liberation Serif', serif;color:#000;">(0.1mg zymosan)</div>
<div class="b" style="left:380.7px;top:391px;width:1px;height:90.5px;background:#9a9a9a;"></div>
<div class="b" style="left:380.7px;top:480.5px;width:131.3px;height:1px;background:#9a9a9a;"></div>
<div class="b" style="left:378.7px;top:480.5px;width:2.5px;height:1px;background:#9a9a9a;"></div>
<div class="t" style="left:178.1px;top:478.7px;width:200px;text-align:right;font:bold 5.8px/5.8px 'Liberation Serif', serif;color:#000;">0.0000</div>
<div class="b" style="left:378.7px;top:467.64px;width:2.5px;height:1px;background:#9a9a9a;"></div>
<div class="t" style="left:178.1px;top:465.84px;width:200px;text-align:right;font:bold 5.8px/5.8px 'Liberation Serif', serif;color:#000;">0.0005</div>
<div class="b" style="left:378.7px;top:454.79px;width:2.5px;height:1px;background:#9a9a9a;"></div>
<div class="t" style="left:178.1px;top:452.99px;width:200px;text-align:right;font:bold 5.8px/5.8px 'Liberation Serif', serif;color:#000;">0.0010</div>
<div class="b" style="left:378.7px;top:441.93px;width:2.5px;height:1px;background:#9a9a9a;"></div>
<div class="t" style="left:178.1px;top:440.13px;width:200px;text-align:right;font:bold 5.8px/5.8px 'Liberation Serif', serif;color:#000;">0.0015</div>
<div class="b" style="left:378.7px;top:429.07px;width:2.5px;height:1px;background:#9a9a9a;"></div>
<div class="t" style="left:178.1px;top:427.27px;width:200px;text-align:right;font:bold 5.8px/5.8px 'Liberation Serif', serif;color:#000;">0.0020</div>
<div class="b" style="left:378.7px;top:416.21px;width:2.5px;height:1px;background:#9a9a9a;"></div>
<div class="t" style="left:178.1px;top:414.41px;width:200px;text-align:right;font:bold 5.8px/5.8px 'Liberation Serif', serif;color:#000;">0.0025</div>
<div class="b" style="left:378.7px;top:403.36px;width:2.5px;height:1px;background:#9a9a9a;"></div>
<div class="t" style="left:178.1px;top:401.56px;width:200px;text-align:right;font:bold 5.8px/5.8px 'Liberation Serif', serif;color:#000;">0.0030</div>
<div class="b" style="left:378.7px;top:390.5px;width:2.5px;height:1px;background:#9a9a9a;"></div>
<div class="t" style="left:178.1px;top:388.7px;width:200px;text-align:right;font:bold 5.8px/5.8px 'Liberation Serif', serif;color:#000;">0.0035</div>
<div class="t" style="left:296.3px;top:438.2px;width:120px;text-align:center;font:bold 6px/6px 'Liberation Serif', serif;color:#000;transform:rotate(-90deg);">Ccna2 (AU)</div>
<div class="b" style="left:384.5px;top:479.25px;width:10.5px;height:1.75px;background:#050505;"></div>
<div class="b" style="left:405.38px;top:469px;width:1px;height:3px;background:#7a7a7a;"></div>
<div class="b" style="left:403.38px;top:468.5px;width:5px;height:1px;background:#7a7a7a;"></div>
<div class="b" style="left:400.5px;top:472px;width:10.75px;height:9px;background:#050505;"></div>
<div class="b" style="left:421.62px;top:469.25px;width:1px;height:2.5px;background:#7a7a7a;"></div>
<div class="b" style="left:419.62px;top:468.75px;width:5px;height:1px;background:#7a7a7a;"></div>
<div class="b" style="left:416.75px;top:471.75px;width:10.75px;height:9.25px;background:#050505;"></div>
<div class="b" style="left:433px;top:480.25px;width:10.75px;height:0.75px;background:#050505;"></div>
<div class="b" style="left:453.85px;top:478.5px;width:1px;height:0.7px;background:#7a7a7a;"></div>
<div class="b" style="left:451.85px;top:478px;width:5px;height:1px;background:#7a7a7a;"></div>
<div class="b" style="left:448.9px;top:478.7px;width:10.9px;height:2.8px;background:#fff;border:1px solid #7a7a7a;box-sizing:border-box;"></div>
<div class="b" style="left:470.2px;top:424.2px;width:1px;height:7.2px;background:#7a7a7a;"></div>
<div class="b" style="left:468.2px;top:423.7px;width:5px;height:1px;background:#7a7a7a;"></div>
<div class="b" style="left:465.2px;top:430.9px;width:11px;height:50.6px;background:#fff;border:1px solid #7a7a7a;box-sizing:border-box;"></div>
<div class="b" style="left:486.25px;top:399.6px;width:1px;height:9.8px;background:#7a7a7a;"></div>
<div class="b" style="left:484.25px;top:399.1px;width:5px;height:1px;background:#7a7a7a;"></div>
<div class="b" style="left:481.2px;top:408.9px;width:11.1px;height:72.6px;background:#fff;border:1px solid #7a7a7a;box-sizing:border-box;"></div>
<div class="b" style="left:502.5px;top:462.3px;width:1px;height:6.2px;background:#7a7a7a;"></div>
<div class="b" style="left:500.5px;top:461.8px;width:5px;height:1px;background:#7a7a7a;"></div>
<div class="b" style="left:497.3px;top:468px;width:11.4px;height:13.5px;background:#fff;border:1px solid #7a7a7a;box-sizing:border-box;"></div>
<div class="t" style="left:286.87px;top:482.5px;width:200px;text-align:center;font:normal 6.3px/6.3px 'Liberation Serif', serif;color:#000;">24h</div>
<div class="t" style="left:304.37px;top:482.5px;width:200px;text-align:center;font:normal 6.3px/6.3px 'Liberation Serif', serif;color:#000;">48h</div>
<div class="t" style="left:322.01px;top:482.5px;width:200px;text-align:center;font:normal 6.3px/6.3px 'Liberation Serif', serif;color:#000;">72h</div>
<div class="t" style="left:356.99px;top:482.5px;width:200px;text-align:center;font:normal 6.3px/6.3px 'Liberation Serif', serif;color:#000;">24h</div>
<div class="t" style="left:374.74px;top:482.5px;width:200px;text-align:center;font:normal 6.3px/6.3px 'Liberation Serif', serif;color:#000;">48h</div>
<div class="t" style="left:392.16px;top:482.5px;width:200px;text-align:center;font:normal 6.3px/6.3px 'Liberation Serif', serif;color:#000;">72h</div>
<div class="t" style="left:339.65px;top:482.5px;width:200px;text-align:center;font:normal 6.3px/6.3px 'Liberation Serif', serif;color:#000;">72h</div>
<div class="t" style="left:339.65px;top:489.35px;width:200px;text-align:center;font:normal 6.4px/6.4px 'Liberation Serif', serif;color:#000;">10mg</div>
<div class="t" style="left:339.65px;top:495.9px;width:200px;text-align:center;font:normal 6.2px/6.2px 'Liberation Serif', serif;color:#000;">zymosan</div>
<div class="t" style="left:409.8px;top:482.5px;width:200px;text-align:center;font:normal 6.3px/6.3px 'Liberation Serif', serif;color:#000;">72h</div>
<div class="t" style="left:409.8px;top:489.35px;width:200px;text-align:center;font:normal 6.4px/6.4px 'Liberation Serif', serif;color:#000;">10mg</div>
<div class="t" style="left:409.8px;top:495.9px;width:200px;text-align:center;font:normal 6.2px/6.2px 'Liberation Serif', serif;color:#000;">zymosan</div>
<div class="b" style="left:380.17px;top:489px;width:46.67px;height:1.1px;background:#222;"></div>
<div class="t" style="left:304.37px;top:491.6px;width:200px;text-align:center;font:normal 7px/7px 'Liberation Serif', serif;color:#000;letter-spacing:0px;">Ly6C<sup>+</sup>F480<sup>+</sup></div>
<div class="t" style="left:304.37px;top:501.05px;width:200px;text-align:center;font:normal 5.9px/5.9px 'Liberation Serif', serif;color:#000;">(0.1mg zymosan)</div>
<div class="b" style="left:448.08px;top:489px;width:47.11px;height:1.1px;background:#222;"></div>
<div class="t" style="left:374.74px;top:491.6px;width:200px;text-align:center;font:normal 7px/7px 'Liberation Serif', serif;color:#000;letter-spacing:0px;">Ly6C<sup>-</sup>F480<sup>hi</sup></div>
<div class="t" style="left:374.74px;top:501.05px;width:200px;text-align:center;font:normal 5.9px/5.9px 'Liberation Serif', serif;color:#000;">(0.1mg zymosan)</div>
<div class="b" style="left:46.5px;top:525.7px;width:1px;height:81.6px;background:#9a9a9a;"></div>
<div class="b" style="left:46.5px;top:606.3px;width:141.5px;height:1px;background:#9a9a9a;"></div>
<div class="b" style="left:44.5px;top:606.3px;width:2.5px;height:1px;background:#9a9a9a;"></div>
<div class="t" style="left:-155.9px;top:604.5px;width:200px;text-align:right;font:bold 5.8px/5.8px 'Liberation Serif', serif;color:#000;">0.000</div>
<div class="b" style="left:44.5px;top:596.16px;width:2.5px;height:1px;background:#9a9a9a;"></div>
<div class="t" style="left:-155.9px;top:594.36px;width:200px;text-align:right;font:bold 5.8px/5.8px 'Liberation Serif', serif;color:#000;">0.001</div>
<div class="b" style="left:44.5px;top:586.02px;width:2.5px;height:1px;background:#9a9a9a;"></div>
<div class="t" style="left:-155.9px;top:584.23px;width:200px;text-align:right;font:bold 5.8px/5.8px 'Liberation Serif', serif;color:#000;">0.002</div>
<div class="b" style="left:44.5px;top:575.89px;width:2.5px;height:1px;background:#9a9a9a;"></div>
<div class="t" style="left:-155.9px;top:574.09px;width:200px;text-align:right;font:bold 5.8px/5.8px 'Liberation Serif', serif;color:#000;">0.003</div>
<div class="b" style="left:44.5px;top:565.75px;width:2.5px;height:1px;background:#9a9a9a;"></div>
<div class="t" style="left:-155.9px;top:563.95px;width:200px;text-align:right;font:bold 5.8px/5.8px 'Liberation Serif', serif;color:#000;">0.004</div>
<div class="b" style="left:44.5px;top:555.61px;width:2.5px;height:1px;background:#9a9a9a;"></div>
<div class="t" style="left:-155.9px;top:553.81px;width:200px;text-align:right;font:bold 5.8px/5.8px 'Liberation Serif', serif;color:#000;">0.005</div>
<div class="b" style="left:44.5px;top:545.48px;width:2.5px;height:1px;background:#9a9a9a;"></div>
<div class="t" style="left:-155.9px;top:543.68px;width:200px;text-align:right;font:bold 5.8px/5.8px 'Liberation Serif', serif;color:#000;">0.006</div>
<div class="b" style="left:44.5px;top:535.34px;width:2.5px;height:1px;background:#9a9a9a;"></div>
<div class="t" style="left:-155.9px;top:533.54px;width:200px;text-align:right;font:bold 5.8px/5.8px 'Liberation Serif', serif;color:#000;">0.007</div>
<div class="b" style="left:44.5px;top:525.2px;width:2.5px;height:1px;background:#9a9a9a;"></div>
<div class="t" style="left:-155.9px;top:523.4px;width:200px;text-align:right;font:bold 5.8px/5.8px 'Liberation Serif', serif;color:#000;">0.008</div>
<div class="t" style="left:-35px;top:563.7px;width:120px;text-align:center;font:bold 6.8px/6.8px 'Liberation Serif', serif;color:#000;transform:rotate(-90deg);">Ccnb2 (AU)</div>
<div class="b" style="left:56px;top:580.5px;width:1px;height:4.5px;background:#7a7a7a;"></div>
<div class="b" style="left:54px;top:580px;width:5px;height:1px;background:#7a7a7a;"></div>
<div class="b" style="left:50.75px;top:585px;width:11.5px;height:21.8px;background:#050505;"></div>
<div class="b" style="left:73.25px;top:594.5px;width:1px;height:2.5px;background:#7a7a7a;"></div>
<div class="b" style="left:71.25px;top:594px;width:5px;height:1px;background:#7a7a7a;"></div>
<div class="b" style="left:68px;top:597px;width:11.5px;height:9.8px;background:#050505;"></div>
<div class="b" style="left:90.5px;top:595.5px;width:1px;height:2.5px;background:#7a7a7a;"></div>
<div class="b" style="left:88.5px;top:595px;width:5px;height:1px;background:#7a7a7a;"></div>
<div class="b" style="left:85px;top:598px;width:12px;height:8.8px;background:#050505;"></div>
<div class="b" style="left:108.25px;top:601.25px;width:1px;height:1.25px;background:#7a7a7a;"></div>
<div class="b" style="left:106.25px;top:600.75px;width:5px;height:1px;background:#7a7a7a;"></div>
<div class="b" style="left:103px;top:602.5px;width:11.5px;height:4.3px;background:#050505;"></div>
<div class="b" style="left:125.75px;top:585.25px;width:1px;height:6.75px;background:#7a7a7a;"></div>
<div class="b" style="left:123.75px;top:584.75px;width:5px;height:1px;background:#7a7a7a;"></div>
<div class="b" style="left:120.5px;top:591.5px;width:11.5px;height:15.8px;background:#fff;border:1px solid #7a7a7a;box-sizing:border-box;"></div>
<div class="b" style="left:143.38px;top:561.5px;width:1px;height:1.5px;background:#7a7a7a;"></div>
<div class="b" style="left:141.38px;top:561px;width:5px;height:1px;background:#7a7a7a;"></div>
<div class="b" style="left:138px;top:562.5px;width:11.75px;height:44.8px;background:#fff;border:1px solid #7a7a7a;box-sizing:border-box;"></div>
<div class="b" style="left:160.88px;top:531.5px;width:1px;height:9px;background:#7a7a7a;"></div>
<div class="b" style="left:158.88px;top:531px;width:5px;height:1px;background:#7a7a7a;"></div>
<div class="b" style="left:155.5px;top:540px;width:11.75px;height:67.3px;background:#fff;border:1px solid #7a7a7a;box-sizing:border-box;"></div>
<div class="b" style="left:178.12px;top:558.5px;width:1px;height:9px;background:#7a7a7a;"></div>
<div class="b" style="left:176.12px;top:558px;width:5px;height:1px;background:#7a7a7a;"></div>
<div class="b" style="left:172.75px;top:567px;width:11.75px;height:40.3px;background:#fff;border:1px solid #7a7a7a;box-sizing:border-box;"></div>
<div class="t" style="left:-42.9px;top:610px;width:200px;text-align:center;font:normal 6.3px/6.3px 'Liberation Serif', serif;color:#000;">24h</div>
<div class="t" style="left:-25.61px;top:610px;width:200px;text-align:center;font:normal 6.3px/6.3px 'Liberation Serif', serif;color:#000;">48h</div>
<div class="t" style="left:-8.32px;top:610px;width:200px;text-align:center;font:normal 6.3px/6.3px 'Liberation Serif', serif;color:#000;">72h</div>
<div class="t" style="left:27.02px;top:610px;width:200px;text-align:center;font:normal 6.3px/6.3px 'Liberation Serif', serif;color:#000;">24h</div>
<div class="t" style="left:44.69px;top:610px;width:200px;text-align:center;font:normal 6.3px/6.3px 'Liberation Serif', serif;color:#000;">48h</div>
<div class="t" style="left:62.23px;top:610px;width:200px;text-align:center;font:normal 6.3px/6.3px 'Liberation Serif', serif;color:#000;">72h</div>
<div class="t" style="left:9.48px;top:610px;width:200px;text-align:center;font:normal 6.3px/6.3px 'Liberation Serif', serif;color:#000;">72h</div>
<div class="t" style="left:9.48px;top:616.85px;width:200px;text-align:center;font:normal 6.4px/6.4px 'Liberation Serif', serif;color:#000;">10mg</div>
<div class="t" style="left:9.48px;top:623.4px;width:200px;text-align:center;font:normal 6.2px/6.2px 'Liberation Serif', serif;color:#000;">zymosan</div>
<div class="t" style="left:79.52px;top:610px;width:200px;text-align:center;font:normal 6.3px/6.3px 'Liberation Serif', serif;color:#000;">72h</div>
<div class="t" style="left:79.52px;top:616.85px;width:200px;text-align:center;font:normal 6.4px/6.4px 'Liberation Serif', serif;color:#000;">10mg</div>
<div class="t" style="left:79.52px;top:623.4px;width:200px;text-align:center;font:normal 6.2px/6.2px 'Liberation Serif', serif;color:#000;">zymosan</div>
<div class="b" style="left:50.34px;top:616.5px;width:46.36px;height:1.1px;background:#222;"></div>
<div class="t" style="left:-25.61px;top:619.1px;width:200px;text-align:center;font:normal 7px/7px 'Liberation Serif', serif;color:#000;letter-spacing:0px;">Ly6C<sup>+</sup>F480<sup>+</sup></div>
<div class="t" style="left:-25.61px;top:628.55px;width:200px;text-align:center;font:normal 5.9px/5.9px 'Liberation Serif', serif;color:#000;">(0.1mg zymosan)</div>
<div class="b" style="left:118.26px;top:616.5px;width:46.86px;height:1.1px;background:#222;"></div>
<div class="t" style="left:44.69px;top:619.1px;width:200px;text-align:center;font:normal 7px/7px 'Liberation Serif', serif;color:#000;letter-spacing:0px;">Ly6C<sup>-</sup>F480<sup>hi</sup></div>
<div class="t" style="left:44.69px;top:628.55px;width:200px;text-align:center;font:normal 5.9px/5.9px 'Liberation Serif', serif;color:#000;">(0.1mg zymosan)</div>
<div class="b" style="left:213.3px;top:531.7px;width:1px;height:75.2px;background:#9a9a9a;"></div>
<div class="b" style="left:213.3px;top:605.9px;width:136.7px;height:1px;background:#9a9a9a;"></div>
<div class="b" style="left:211.3px;top:605.9px;width:2.5px;height:1px;background:#9a9a9a;"></div>
<div class="t" style="left:9.4px;top:604.1px;width:200px;text-align:right;font:bold 5.8px/5.8px 'Liberation Serif', serif;color:#000;">0.000</div>
<div class="b" style="left:211.3px;top:597.6px;width:2.5px;height:1px;background:#9a9a9a;"></div>
<div class="t" style="left:9.4px;top:595.8px;width:200px;text-align:right;font:bold 5.8px/5.8px 'Liberation Serif', serif;color:#000;">0.001</div>
<div class="b" style="left:211.3px;top:589.3px;width:2.5px;height:1px;background:#9a9a9a;"></div>
<div class="t" style="left:9.4px;top:587.5px;width:200px;text-align:right;font:bold 5.8px/5.8px 'Liberation Serif', serif;color:#000;">0.002</div>
<div class="b" style="left:211.3px;top:581px;width:2.5px;height:1px;background:#9a9a9a;"></div>
<div class="t" style="left:9.4px;top:579.2px;width:200px;text-align:right;font:bold 5.8px/5.8px 'Liberation Serif', serif;color:#000;">0.003</div>
<div class="b" style="left:211.3px;top:572.7px;width:2.5px;height:1px;background:#9a9a9a;"></div>
<div class="t" style="left:9.4px;top:570.9px;width:200px;text-align:right;font:bold 5.8px/5.8px 'Liberation Serif', serif;color:#000;">0.004</div>
<div class="b" style="left:211.3px;top:564.4px;width:2.5px;height:1px;background:#9a9a9a;"></div>
<div class="t" style="left:9.4px;top:562.6px;width:200px;text-align:right;font:bold 5.8px/5.8px 'Liberation Serif', serif;color:#000;">0.005</div>
<div class="b" style="left:211.3px;top:556.1px;width:2.5px;height:1px;background:#9a9a9a;"></div>
<div class="t" style="left:9.4px;top:554.3px;width:200px;text-align:right;font:bold 5.8px/5.8px 'Liberation Serif', serif;color:#000;">0.006</div>
<div class="b" style="left:211.3px;top:547.8px;width:2.5px;height:1px;background:#9a9a9a;"></div>
<div class="t" style="left:9.4px;top:546px;width:200px;text-align:right;font:bold 5.8px/5.8px 'Liberation Serif', serif;color:#000;">0.007</div>
<div class="b" style="left:211.3px;top:539.5px;width:2.5px;height:1px;background:#9a9a9a;"></div>
<div class="t" style="left:9.4px;top:537.7px;width:200px;text-align:right;font:bold 5.8px/5.8px 'Liberation Serif', serif;color:#000;">0.008</div>
<div class="b" style="left:211.3px;top:531.2px;width:2.5px;height:1px;background:#9a9a9a;"></div>
<div class="t" style="left:9.4px;top:529.4px;width:200px;text-align:right;font:bold 5.8px/5.8px 'Liberation Serif', serif;color:#000;">0.009</div>
<div class="t" style="left:133.2px;top:566.4px;width:120px;text-align:center;font:bold 5.8px/5.8px 'Liberation Serif', serif;color:#000;transform:rotate(-90deg);">Clec2i (AU)</div>
<div class="b" style="left:222.12px;top:572.75px;width:1px;height:5px;background:#7a7a7a;"></div>
<div class="b" style="left:220.12px;top:572.25px;width:5px;height:1px;background:#7a7a7a;"></div>
<div class="b" style="left:216.75px;top:577.75px;width:11.75px;height:28.65px;background:#050505;"></div>
<div class="b" style="left:239px;top:588.5px;width:1px;height:2.25px;background:#7a7a7a;"></div>
<div class="b" style="left:237px;top:588px;width:5px;height:1px;background:#7a7a7a;"></div>
<div class="b" style="left:233.75px;top:590.75px;width:11.5px;height:15.65px;background:#050505;"></div>
<div class="b" style="left:255.88px;top:594.25px;width:1px;height:1.25px;background:#7a7a7a;"></div>
<div class="b" style="left:253.88px;top:593.75px;width:5px;height:1px;background:#7a7a7a;"></div>
<div class="b" style="left:250.75px;top:595.5px;width:11.25px;height:10.9px;background:#050505;"></div>
<div class="b" style="left:267.5px;top:603px;width:11.5px;height:3.4px;background:#050505;"></div>
<div class="b" style="left:284.3px;top:602.3px;width:11.3px;height:4.6px;background:#fff;border:1px solid #7a7a7a;box-sizing:border-box;"></div>
<div class="b" style="left:306.25px;top:538.1px;width:1px;height:11px;background:#7a7a7a;"></div>
<div class="b" style="left:304.25px;top:537.6px;width:5px;height:1px;background:#7a7a7a;"></div>
<div class="b" style="left:301px;top:548.6px;width:11.5px;height:58.3px;background:#fff;border:1px solid #7a7a7a;box-sizing:border-box;"></div>
<div class="b" style="left:322.75px;top:555.25px;width:1px;height:7.25px;background:#7a7a7a;"></div>
<div class="b" style="left:320.75px;top:554.75px;width:5px;height:1px;background:#7a7a7a;"></div>
<div class="b" style="left:317.5px;top:562px;width:11.5px;height:44.9px;background:#fff;border:1px solid #7a7a7a;box-sizing:border-box;"></div>
<div class="b" style="left:339.75px;top:573.5px;width:1px;height:5.75px;background:#7a7a7a;"></div>
<div class="b" style="left:337.75px;top:573px;width:5px;height:1px;background:#7a7a7a;"></div>
<div class="b" style="left:334.5px;top:578.75px;width:11.5px;height:28.15px;background:#fff;border:1px solid #7a7a7a;box-sizing:border-box;"></div>
<div class="t" style="left:121.63px;top:609.6px;width:200px;text-align:center;font:normal 6.3px/6.3px 'Liberation Serif', serif;color:#000;">24h</div>
<div class="t" style="left:139.18px;top:609.6px;width:200px;text-align:center;font:normal 6.3px/6.3px 'Liberation Serif', serif;color:#000;">48h</div>
<div class="t" style="left:156.73px;top:609.6px;width:200px;text-align:center;font:normal 6.3px/6.3px 'Liberation Serif', serif;color:#000;">72h</div>
<div class="t" style="left:191.64px;top:609.6px;width:200px;text-align:center;font:normal 6.3px/6.3px 'Liberation Serif', serif;color:#000;">24h</div>
<div class="t" style="left:209.11px;top:609.6px;width:200px;text-align:center;font:normal 6.3px/6.3px 'Liberation Serif', serif;color:#000;">48h</div>
<div class="t" style="left:226.27px;top:609.6px;width:200px;text-align:center;font:normal 6.3px/6.3px 'Liberation Serif', serif;color:#000;">72h</div>
<div class="t" style="left:174.27px;top:609.6px;width:200px;text-align:center;font:normal 6.3px/6.3px 'Liberation Serif', serif;color:#000;">72h</div>
<div class="t" style="left:174.27px;top:616.45px;width:200px;text-align:center;font:normal 6.4px/6.4px 'Liberation Serif', serif;color:#000;">10mg</div>
<div class="t" style="left:174.27px;top:623px;width:200px;text-align:center;font:normal 6.2px/6.2px 'Liberation Serif', serif;color:#000;">zymosan</div>
<div class="t" style="left:243.95px;top:609.6px;width:200px;text-align:center;font:normal 6.3px/6.3px 'Liberation Serif', serif;color:#000;">72h</div>
<div class="t" style="left:243.95px;top:616.45px;width:200px;text-align:center;font:normal 6.4px/6.4px 'Liberation Serif', serif;color:#000;">10mg</div>
<div class="t" style="left:243.95px;top:623px;width:200px;text-align:center;font:normal 6.2px/6.2px 'Liberation Serif', serif;color:#000;">zymosan</div>
<div class="b" style="left:214.52px;top:616.1px;width:47.06px;height:1.1px;background:#222;"></div>
<div class="t" style="left:139.18px;top:618.7px;width:200px;text-align:center;font:normal 7px/7px 'Liberation Serif', serif;color:#000;letter-spacing:0px;">Ly6C<sup>+</sup>F480<sup>+</sup></div>
<div class="t" style="left:139.18px;top:628.15px;width:200px;text-align:center;font:normal 5.9px/5.9px 'Liberation Serif', serif;color:#000;">(0.1mg zymosan)</div>
<div class="b" style="left:282.77px;top:616.1px;width:46.48px;height:1.1px;background:#222;"></div>
<div class="t" style="left:209.11px;top:618.7px;width:200px;text-align:center;font:normal 7px/7px 'Liberation Serif', serif;color:#000;letter-spacing:0px;">Ly6C<sup>-</sup>F480<sup>hi</sup></div>
<div class="t" style="left:209.11px;top:628.15px;width:200px;text-align:center;font:normal 5.9px/5.9px 'Liberation Serif', serif;color:#000;">(0.1mg zymosan)</div>
<div class="b" style="left:382.2px;top:531.3px;width:1px;height:75.8px;background:#9a9a9a;"></div>
<div class="b" style="left:382.2px;top:606.1px;width:130.8px;height:1px;background:#9a9a9a;"></div>
<div class="b" style="left:380.2px;top:606.1px;width:2.5px;height:1px;background:#9a9a9a;"></div>
<div class="t" style="left:176.4px;top:604.3px;width:200px;text-align:right;font:bold 5.8px/5.8px 'Liberation Serif', serif;color:#000;">0.0000</div>
<div class="b" style="left:380.2px;top:595.34px;width:2.5px;height:1px;background:#9a9a9a;"></div>
<div class="t" style="left:176.4px;top:593.54px;width:200px;text-align:right;font:bold 5.8px/5.8px 'Liberation Serif', serif;color:#000;">0.0002</div>
<div class="b" style="left:380.2px;top:584.59px;width:2.5px;height:1px;background:#9a9a9a;"></div>
<div class="t" style="left:176.4px;top:582.79px;width:200px;text-align:right;font:bold 5.8px/5.8px 'Liberation Serif', serif;color:#000;">0.0004</div>
<div class="b" style="left:380.2px;top:573.83px;width:2.5px;height:1px;background:#9a9a9a;"></div>
<div class="t" style="left:176.4px;top:572.03px;width:200px;text-align:right;font:bold 5.8px/5.8px 'Liberation Serif', serif;color:#000;">0.0006</div>
<div class="b" style="left:380.2px;top:563.07px;width:2.5px;height:1px;background:#9a9a9a;"></div>
<div class="t" style="left:176.4px;top:561.27px;width:200px;text-align:right;font:bold 5.8px/5.8px 'Liberation Serif', serif;color:#000;">0.0008</div>
<div class="b" style="left:380.2px;top:552.31px;width:2.5px;height:1px;background:#9a9a9a;"></div>
<div class="t" style="left:176.4px;top:550.51px;width:200px;text-align:right;font:bold 5.8px/5.8px 'Liberation Serif', serif;color:#000;">0.0010</div>
<div class="b" style="left:380.2px;top:541.56px;width:2.5px;height:1px;background:#9a9a9a;"></div>
<div class="t" style="left:176.4px;top:539.76px;width:200px;text-align:right;font:bold 5.8px/5.8px 'Liberation Serif', serif;color:#000;">0.0012</div>
<div class="b" style="left:380.2px;top:530.8px;width:2.5px;height:1px;background:#9a9a9a;"></div>
<div class="t" style="left:176.4px;top:529px;width:200px;text-align:right;font:bold 5.8px/5.8px 'Liberation Serif', serif;color:#000;">0.0014</div>
<div class="t" style="left:294.1px;top:563.8px;width:120px;text-align:center;font:bold 5.8px/5.8px 'Liberation Serif', serif;color:#000;transform:rotate(-90deg);">Ccr7 (AU)</div>
<div class="b" style="left:389.62px;top:533.75px;width:1px;height:16.75px;background:#7a7a7a;"></div>
<div class="b" style="left:387.62px;top:533.25px;width:5px;height:1px;background:#7a7a7a;"></div>
<div class="b" style="left:384.5px;top:550.5px;width:11.25px;height:56.1px;background:#050505;"></div>
<div class="b" style="left:405.75px;top:582.75px;width:1px;height:5.75px;background:#7a7a7a;"></div>
<div class="b" style="left:403.75px;top:582.25px;width:5px;height:1px;background:#7a7a7a;"></div>
<div class="b" style="left:400.75px;top:588.5px;width:11px;height:18.1px;background:#050505;"></div>
<div class="b" style="left:422px;top:592.5px;width:1px;height:2.5px;background:#7a7a7a;"></div>
<div class="b" style="left:420px;top:592px;width:5px;height:1px;background:#7a7a7a;"></div>
<div class="b" style="left:417px;top:595px;width:11px;height:11.6px;background:#050505;"></div>
<div class="b" style="left:433px;top:606px;width:11px;height:0.6px;background:#050505;"></div>
<div class="b" style="left:454.4px;top:553.6px;width:1px;height:10.4px;background:#7a7a7a;"></div>
<div class="b" style="left:452.4px;top:553.1px;width:5px;height:1px;background:#7a7a7a;"></div>
<div class="b" style="left:449.2px;top:563.5px;width:11.4px;height:43.6px;background:#fff;border:1px solid #7a7a7a;box-sizing:border-box;"></div>
<div class="b" style="left:471.1px;top:572.8px;width:1px;height:7.5px;background:#7a7a7a;"></div>
<div class="b" style="left:469.1px;top:572.3px;width:5px;height:1px;background:#7a7a7a;"></div>
<div class="b" style="left:465.9px;top:579.8px;width:11.4px;height:27.3px;background:#fff;border:1px solid #7a7a7a;box-sizing:border-box;"></div>
<div class="b" style="left:487.4px;top:552.1px;width:1px;height:9.1px;background:#7a7a7a;"></div>
<div class="b" style="left:485.4px;top:551.6px;width:5px;height:1px;background:#7a7a7a;"></div>
<div class="b" style="left:482.1px;top:560.7px;width:11.6px;height:46.4px;background:#fff;border:1px solid #7a7a7a;box-sizing:border-box;"></div>
<div class="b" style="left:503.55px;top:597.5px;width:1px;height:1.7px;background:#7a7a7a;"></div>
<div class="b" style="left:501.55px;top:597px;width:5px;height:1px;background:#7a7a7a;"></div>
<div class="b" style="left:498.3px;top:598.7px;width:11.5px;height:8.4px;background:#fff;border:1px solid #7a7a7a;box-sizing:border-box;"></div>
<div class="t" style="left:286.74px;top:607.5px;width:200px;text-align:center;font:normal 6.3px/6.3px 'Liberation Serif', serif;color:#000;">24h</div>
<div class="t" style="left:304.01px;top:607.5px;width:200px;text-align:center;font:normal 6.3px/6.3px 'Liberation Serif', serif;color:#000;">48h</div>
<div class="t" style="left:321.41px;top:607.5px;width:200px;text-align:center;font:normal 6.3px/6.3px 'Liberation Serif', serif;color:#000;">72h</div>
<div class="t" style="left:356.11px;top:607.5px;width:200px;text-align:center;font:normal 6.3px/6.3px 'Liberation Serif', serif;color:#000;">24h</div>
<div class="t" style="left:373.99px;top:607.5px;width:200px;text-align:center;font:normal 6.3px/6.3px 'Liberation Serif', serif;color:#000;">48h</div>
<div class="t" style="left:391.44px;top:607.5px;width:200px;text-align:center;font:normal 6.3px/6.3px 'Liberation Serif', serif;color:#000;">72h</div>
<div class="t" style="left:338.54px;top:607.5px;width:200px;text-align:center;font:normal 6.3px/6.3px 'Liberation Serif', serif;color:#000;">72h</div>
<div class="t" style="left:338.54px;top:614.35px;width:200px;text-align:center;font:normal 6.4px/6.4px 'Liberation Serif', serif;color:#000;">10mg</div>
<div class="t" style="left:338.54px;top:620.9px;width:200px;text-align:center;font:normal 6.2px/6.2px 'Liberation Serif', serif;color:#000;">zymosan</div>
<div class="t" style="left:408.74px;top:607.5px;width:200px;text-align:center;font:normal 6.3px/6.3px 'Liberation Serif', serif;color:#000;">72h</div>
<div class="t" style="left:408.74px;top:614.35px;width:200px;text-align:center;font:normal 6.4px/6.4px 'Liberation Serif', serif;color:#000;">10mg</div>
<div class="t" style="left:408.74px;top:620.9px;width:200px;text-align:center;font:normal 6.2px/6.2px 'Liberation Serif', serif;color:#000;">zymosan</div>
<div class="b" style="left:379.72px;top:614px;width:46.58px;height:1.1px;background:#222;"></div>
<div class="t" style="left:304.01px;top:616.6px;width:200px;text-align:center;font:normal 7px/7px 'Liberation Serif', serif;color:#000;letter-spacing:0px;">Ly6C<sup>+</sup>F480<sup>+</sup></div>
<div class="t" style="left:304.01px;top:626.05px;width:200px;text-align:center;font:normal 5.9px/5.9px 'Liberation Serif', serif;color:#000;">(0.1mg zymosan)</div>
<div class="b" style="left:447px;top:614px;width:47.65px;height:1.1px;background:#222;"></div>
<div class="t" style="left:373.99px;top:616.6px;width:200px;text-align:center;font:normal 7px/7px 'Liberation Serif', serif;color:#000;letter-spacing:0px;">Ly6C<sup>-</sup>F480<sup>hi</sup></div>
<div class="t" style="left:373.99px;top:626.05px;width:200px;text-align:center;font:normal 5.9px/5.9px 'Liberation Serif', serif;color:#000;">(0.1mg zymosan)</div>
<div class="b" style="left:51.8px;top:654.8px;width:1px;height:73.3px;background:#9a9a9a;"></div>
<div class="b" style="left:51.8px;top:727.1px;width:139.2px;height:1px;background:#9a9a9a;"></div>
<div class="b" style="left:49.8px;top:727.1px;width:2.5px;height:1px;background:#9a9a9a;"></div>
<div class="t" style="left:-155.2px;top:726.15px;width:200px;text-align:right;font:bold 5.7px/5.7px 'Liberation Sans', sans-serif;color:#000;">0.000</div>
<div class="b" style="left:49.8px;top:714.97px;width:2.5px;height:1px;background:#9a9a9a;"></div>
<div class="t" style="left:-155.2px;top:714.02px;width:200px;text-align:right;font:bold 5.7px/5.7px 'Liberation Sans', sans-serif;color:#000;">0.001</div>
<div class="b" style="left:49.8px;top:702.83px;width:2.5px;height:1px;background:#9a9a9a;"></div>
<div class="t" style="left:-155.2px;top:701.88px;width:200px;text-align:right;font:bold 5.7px/5.7px 'Liberation Sans', sans-serif;color:#000;">0.002</div>
<div class="b" style="left:49.8px;top:690.7px;width:2.5px;height:1px;background:#9a9a9a;"></div>
<div class="t" style="left:-155.2px;top:689.75px;width:200px;text-align:right;font:bold 5.7px/5.7px 'Liberation Sans', sans-serif;color:#000;">0.003</div>
<div class="b" style="left:49.8px;top:678.57px;width:2.5px;height:1px;background:#9a9a9a;"></div>
<div class="t" style="left:-155.2px;top:677.62px;width:200px;text-align:right;font:bold 5.7px/5.7px 'Liberation Sans', sans-serif;color:#000;">0.004</div>
<div class="b" style="left:49.8px;top:666.43px;width:2.5px;height:1px;background:#9a9a9a;"></div>
<div class="t" style="left:-155.2px;top:665.48px;width:200px;text-align:right;font:bold 5.7px/5.7px 'Liberation Sans', sans-serif;color:#000;">0.005</div>
<div class="b" style="left:49.8px;top:654.3px;width:2.5px;height:1px;background:#9a9a9a;"></div>
<div class="t" style="left:-155.2px;top:653.35px;width:200px;text-align:right;font:bold 5.7px/5.7px 'Liberation Sans', sans-serif;color:#000;">0.006</div>
<div class="t" style="left:-37.2px;top:685px;width:120px;text-align:center;font:normal 5.6px/5.6px 'Liberation Sans', sans-serif;color:#000;transform:rotate(-90deg);">CD200a (AU)</div>
<div class="b" style="left:55px;top:723.25px;width:11.5px;height:4.35px;background:#050505;"></div>
<div class="b" style="left:77.25px;top:711.25px;width:1px;height:5px;background:#7a7a7a;"></div>
<div class="b" style="left:75.25px;top:710.75px;width:5px;height:1px;background:#7a7a7a;"></div>
<div class="b" style="left:72px;top:716.25px;width:11.5px;height:11.35px;background:#050505;"></div>
<div class="b" style="left:94.5px;top:719.5px;width:1px;height:2px;background:#7a7a7a;"></div>
<div class="b" style="left:92.5px;top:719px;width:5px;height:1px;background:#7a7a7a;"></div>
<div class="b" style="left:89px;top:721.5px;width:12px;height:6.1px;background:#050505;"></div>
<div class="b" style="left:106.5px;top:727.3px;width:11px;height:0.3px;background:#050505;"></div>
<div class="b" style="left:128.88px;top:712.5px;width:1px;height:3px;background:#7a7a7a;"></div>
<div class="b" style="left:126.88px;top:712px;width:5px;height:1px;background:#7a7a7a;"></div>
<div class="b" style="left:123.25px;top:715px;width:12.25px;height:13.1px;background:#fff;border:1px solid #7a7a7a;box-sizing:border-box;"></div>
<div class="b" style="left:146.12px;top:682.5px;width:1px;height:4.75px;background:#7a7a7a;"></div>
<div class="b" style="left:144.12px;top:682px;width:5px;height:1px;background:#7a7a7a;"></div>
<div class="b" style="left:140.75px;top:686.75px;width:11.75px;height:41.35px;background:#fff;border:1px solid #7a7a7a;box-sizing:border-box;"></div>
<div class="b" style="left:163.5px;top:661.5px;width:1px;height:5.75px;background:#7a7a7a;"></div>
<div class="b" style="left:161.5px;top:661px;width:5px;height:1px;background:#7a7a7a;"></div>
<div class="b" style="left:158px;top:666.75px;width:12px;height:61.35px;background:#fff;border:1px solid #7a7a7a;box-sizing:border-box;"></div>
<div class="b" style="left:180.75px;top:717.5px;width:1px;height:2.5px;background:#7a7a7a;"></div>
<div class="b" style="left:178.75px;top:717px;width:5px;height:1px;background:#7a7a7a;"></div>
<div class="b" style="left:175.5px;top:719.5px;width:11.5px;height:8.6px;background:#fff;border:1px solid #7a7a7a;box-sizing:border-box;"></div>
<div class="t" style="left:-38.45px;top:729.5px;width:200px;text-align:center;font:normal 6.3px/6.3px 'Liberation Serif', serif;color:#000;">24h</div>
<div class="t" style="left:-21.72px;top:729.5px;width:200px;text-align:center;font:normal 6.3px/6.3px 'Liberation Serif', serif;color:#000;">48h</div>
<div class="t" style="left:-4.74px;top:729.5px;width:200px;text-align:center;font:normal 6.3px/6.3px 'Liberation Serif', serif;color:#000;">72h</div>
<div class="t" style="left:29.09px;top:729.5px;width:200px;text-align:center;font:normal 6.3px/6.3px 'Liberation Serif', serif;color:#000;">24h</div>
<div class="t" style="left:46.07px;top:729.5px;width:200px;text-align:center;font:normal 6.3px/6.3px 'Liberation Serif', serif;color:#000;">48h</div>
<div class="t" style="left:63.17px;top:729.5px;width:200px;text-align:center;font:normal 6.3px/6.3px 'Liberation Serif', serif;color:#000;">72h</div>
<div class="t" style="left:11.99px;top:729.5px;width:200px;text-align:center;font:normal 6.3px/6.3px 'Liberation Serif', serif;color:#000;">72h</div>
<div class="t" style="left:11.99px;top:736.35px;width:200px;text-align:center;font:normal 6.4px/6.4px 'Liberation Serif', serif;color:#000;">10mg</div>
<div class="t" style="left:11.99px;top:742.9px;width:200px;text-align:center;font:normal 6.2px/6.2px 'Liberation Serif', serif;color:#000;">zymosan</div>
<div class="t" style="left:80.15px;top:729.5px;width:200px;text-align:center;font:normal 6.3px/6.3px 'Liberation Serif', serif;color:#000;">72h</div>
<div class="t" style="left:80.15px;top:736.35px;width:200px;text-align:center;font:normal 6.4px/6.4px 'Liberation Serif', serif;color:#000;">10mg</div>
<div class="t" style="left:80.15px;top:742.9px;width:200px;text-align:center;font:normal 6.2px/6.2px 'Liberation Serif', serif;color:#000;">zymosan</div>
<div class="b" style="left:54.89px;top:736px;width:45.28px;height:1.1px;background:#222;"></div>
<div class="t" style="left:-21.72px;top:738.6px;width:200px;text-align:center;font:normal 7px/7px 'Liberation Serif', serif;color:#000;letter-spacing:0px;">Ly6C<sup>+</sup>F480<sup>+</sup></div>
<div class="t" style="left:-21.72px;top:748.05px;width:200px;text-align:center;font:normal 5.9px/5.9px 'Liberation Serif', serif;color:#000;">(0.1mg zymosan)</div>
<div class="b" style="left:120.06px;top:736px;width:46.01px;height:1.1px;background:#222;"></div>
<div class="t" style="left:46.07px;top:738.6px;width:200px;text-align:center;font:normal 7px/7px 'Liberation Serif', serif;color:#000;letter-spacing:0px;">Ly6C<sup>-</sup>F480<sup>hi</sup></div>
<div class="t" style="left:46.07px;top:748.05px;width:200px;text-align:center;font:normal 5.9px/5.9px 'Liberation Serif', serif;color:#000;">(0.1mg zymosan)</div>
<div class="b" style="left:216.9px;top:654.6px;width:1px;height:73.6px;background:#9a9a9a;"></div>
<div class="b" style="left:216.9px;top:727.2px;width:136.1px;height:1px;background:#9a9a9a;"></div>
<div class="b" style="left:214.9px;top:727.2px;width:2.5px;height:1px;background:#9a9a9a;"></div>
<div class="t" style="left:14.5px;top:726.25px;width:200px;text-align:right;font:bold 5.7px/5.7px 'Liberation Sans', sans-serif;color:#000;">0.0000</div>
<div class="b" style="left:214.9px;top:702.83px;width:2.5px;height:1px;background:#9a9a9a;"></div>
<div class="t" style="left:14.5px;top:701.88px;width:200px;text-align:right;font:bold 5.7px/5.7px 'Liberation Sans', sans-serif;color:#000;">0.0001</div>
<div class="b" style="left:214.9px;top:678.47px;width:2.5px;height:1px;background:#9a9a9a;"></div>
<div class="t" style="left:14.5px;top:677.52px;width:200px;text-align:right;font:bold 5.7px/5.7px 'Liberation Sans', sans-serif;color:#000;">0.0002</div>
<div class="b" style="left:214.9px;top:654.1px;width:2.5px;height:1px;background:#9a9a9a;"></div>
<div class="t" style="left:14.5px;top:653.15px;width:200px;text-align:right;font:bold 5.7px/5.7px 'Liberation Sans', sans-serif;color:#000;">0.0003</div>
<div class="t" style="left:132px;top:685.6px;width:120px;text-align:center;font:bold 6.4px/6.4px 'Liberation Sans', sans-serif;color:#000;transform:rotate(-90deg);">Xcl1 (AU)</div>
<div class="b" style="left:225.62px;top:703.5px;width:1px;height:3.5px;background:#7a7a7a;"></div>
<div class="b" style="left:223.62px;top:703px;width:5px;height:1px;background:#7a7a7a;"></div>
<div class="b" style="left:220.5px;top:707px;width:11.25px;height:20.7px;background:#050505;"></div>
<div class="b" style="left:242.62px;top:692.5px;width:1px;height:8.75px;background:#7a7a7a;"></div>
<div class="b" style="left:240.62px;top:692px;width:5px;height:1px;background:#7a7a7a;"></div>
<div class="b" style="left:237.5px;top:701.25px;width:11.25px;height:26.45px;background:#050505;"></div>
<div class="b" style="left:259.25px;top:686.25px;width:1px;height:6.75px;background:#7a7a7a;"></div>
<div class="b" style="left:257.25px;top:685.75px;width:5px;height:1px;background:#7a7a7a;"></div>
<div class="b" style="left:254px;top:693px;width:11.5px;height:34.7px;background:#050505;"></div>
<div class="b" style="left:276px;top:720.5px;width:1px;height:2.5px;background:#7a7a7a;"></div>
<div class="b" style="left:274px;top:720px;width:5px;height:1px;background:#7a7a7a;"></div>
<div class="b" style="left:271px;top:723px;width:11px;height:4.7px;background:#050505;"></div>
<div class="b" style="left:292.6px;top:719.5px;width:1px;height:1.5px;background:#7a7a7a;"></div>
<div class="b" style="left:290.6px;top:719px;width:5px;height:1px;background:#7a7a7a;"></div>
<div class="b" style="left:287.2px;top:720.5px;width:11.8px;height:7.7px;background:#fff;border:1px solid #7a7a7a;box-sizing:border-box;"></div>
<div class="b" style="left:309.25px;top:704.5px;width:1px;height:4.2px;background:#7a7a7a;"></div>
<div class="b" style="left:307.25px;top:704px;width:5px;height:1px;background:#7a7a7a;"></div>
<div class="b" style="left:304px;top:708.2px;width:11.5px;height:20px;background:#fff;border:1px solid #7a7a7a;box-sizing:border-box;"></div>
<div class="b" style="left:326.75px;top:659.5px;width:1px;height:9.75px;background:#7a7a7a;"></div>
<div class="b" style="left:324.75px;top:659px;width:5px;height:1px;background:#7a7a7a;"></div>
<div class="b" style="left:321.5px;top:668.75px;width:11.5px;height:59.45px;background:#fff;border:1px solid #7a7a7a;box-sizing:border-box;"></div>
<div class="b" style="left:343.12px;top:704.25px;width:1px;height:6px;background:#7a7a7a;"></div>
<div class="b" style="left:341.12px;top:703.75px;width:5px;height:1px;background:#7a7a7a;"></div>
<div class="b" style="left:337.75px;top:709.75px;width:11.75px;height:18.45px;background:#fff;border:1px solid #7a7a7a;box-sizing:border-box;"></div>
<div class="t" style="left:126.13px;top:729.5px;width:200px;text-align:center;font:normal 6.3px/6.3px 'Liberation Serif', serif;color:#000;">24h</div>
<div class="t" style="left:143.2px;top:729.5px;width:200px;text-align:center;font:normal 6.3px/6.3px 'Liberation Serif', serif;color:#000;">48h</div>
<div class="t" style="left:159.89px;top:729.5px;width:200px;text-align:center;font:normal 6.3px/6.3px 'Liberation Serif', serif;color:#000;">72h</div>
<div class="t" style="left:193.39px;top:729.5px;width:200px;text-align:center;font:normal 6.3px/6.3px 'Liberation Serif', serif;color:#000;">24h</div>
<div class="t" style="left:210.11px;top:729.5px;width:200px;text-align:center;font:normal 6.3px/6.3px 'Liberation Serif', serif;color:#000;">48h</div>
<div class="t" style="left:227.68px;top:729.5px;width:200px;text-align:center;font:normal 6.3px/6.3px 'Liberation Serif', serif;color:#000;">72h</div>
<div class="t" style="left:176.71px;top:729.5px;width:200px;text-align:center;font:normal 6.3px/6.3px 'Liberation Serif', serif;color:#000;">72h</div>
<div class="t" style="left:176.71px;top:736.35px;width:200px;text-align:center;font:normal 6.4px/6.4px 'Liberation Serif', serif;color:#000;">10mg</div>
<div class="t" style="left:176.71px;top:742.9px;width:200px;text-align:center;font:normal 6.2px/6.2px 'Liberation Serif', serif;color:#000;">zymosan</div>
<div class="t" style="left:244.13px;top:729.5px;width:200px;text-align:center;font:normal 6.3px/6.3px 'Liberation Serif', serif;color:#000;">72h</div>
<div class="t" style="left:244.13px;top:736.35px;width:200px;text-align:center;font:normal 6.4px/6.4px 'Liberation Serif', serif;color:#000;">10mg</div>
<div class="t" style="left:244.13px;top:742.9px;width:200px;text-align:center;font:normal 6.2px/6.2px 'Liberation Serif', serif;color:#000;">zymosan</div>
<div class="b" style="left:219.48px;top:736px;width:45.19px;height:1.1px;background:#222;"></div>
<div class="t" style="left:143.2px;top:738.6px;width:200px;text-align:center;font:normal 7px/7px 'Liberation Serif', serif;color:#000;letter-spacing:0px;">Ly6C<sup>+</sup>F480<sup>+</sup></div>
<div class="t" style="left:143.2px;top:748.05px;width:200px;text-align:center;font:normal 5.9px/5.9px 'Liberation Serif', serif;color:#000;">(0.1mg zymosan)</div>
<div class="b" style="left:284.46px;top:736px;width:45.99px;height:1.1px;background:#222;"></div>
<div class="t" style="left:210.11px;top:738.6px;width:200px;text-align:center;font:normal 7px/7px 'Liberation Serif', serif;color:#000;letter-spacing:0px;">Ly6C<sup>-</sup>F480<sup>hi</sup></div>
<div class="t" style="left:210.11px;top:748.05px;width:200px;text-align:center;font:normal 5.9px/5.9px 'Liberation Serif', serif;color:#000;">(0.1mg zymosan)</div>
</body></html>
